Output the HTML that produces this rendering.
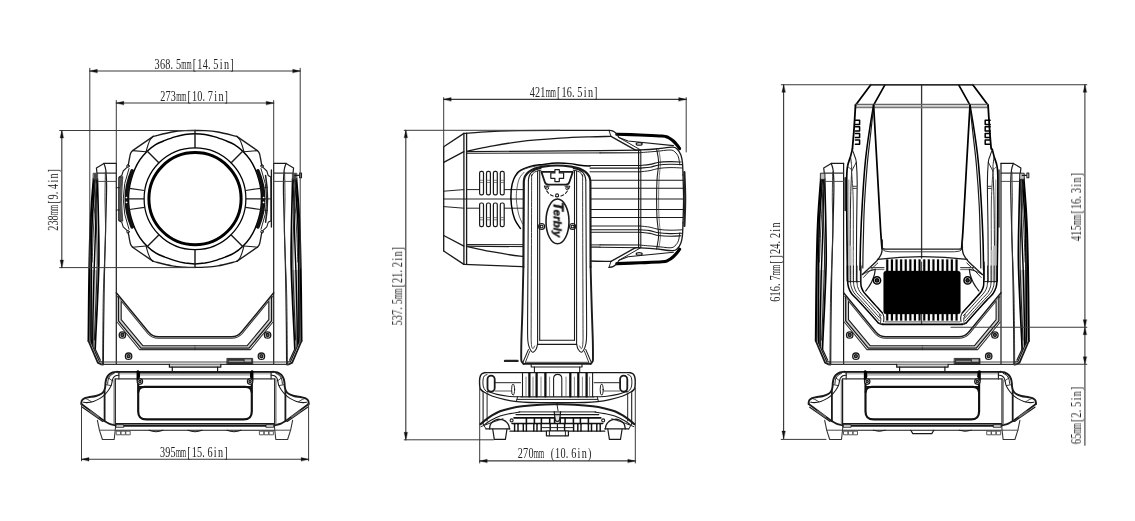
<!DOCTYPE html>
<html lang="en">
<head>
<meta charset="utf-8">
<title>Dimensions</title>
<style>
html,body{margin:0;padding:0;background:#fff;}
body{width:1135px;height:521px;overflow:hidden;}
svg{display:block;}
svg text{will-change:transform;}
svg text{font-family:"Liberation Serif","DejaVu Serif",serif;fill:#222;}
svg text.m{font-family:"Liberation Mono","DejaVu Sans Mono",monospace;}
svg path,svg line,svg circle,svg ellipse,svg rect{stroke-linecap:round;stroke-linejoin:round;}
</style>
</head>
<body>
<svg width="1135" height="521" viewBox="0 0 1135 521">
<rect x="0" y="0" width="1135" height="521" fill="#fff" stroke="none"/>
<circle cx="195" cy="198.7" r="46.1" stroke="#000" stroke-width="2.97" fill="none"/>
<circle cx="195" cy="198.8" r="50.9" stroke="#000" stroke-width="1.26" fill="none"/>
<path d="M195 133.7 C198.3 133.7 201.7 133.9 205 134.4 C208.3 135 211.7 135.9 215 136.9 C218.3 137.9 221.8 139.2 225 140.4 C228.2 141.7 231.4 142.8 234.4 144.6 C237.4 146.4 240.2 148.8 242.8 151.2 C245.4 153.8 248 156.6 250 159.6 C252 162.5 253.6 165.6 255 168.8 C256.4 171.9 257.6 175.4 258.6 178.8 C259.6 182.1 260.3 185.4 260.8 188.8 C261.3 192.1 261.5 195.4 261.5 198.8 C261.5 202.1 261.3 205.4 260.8 208.8 C260.3 212.1 259.6 215.4 258.6 218.8 C257.6 222.1 256.4 225.6 255 228.8 C253.6 231.9 252 235 250 237.9 C248 240.9 245.4 243.8 242.8 246.2 C240.2 248.8 237.4 251.1 234.4 252.9 C231.4 254.8 228.2 255.8 225 257.1 C221.8 258.3 218.3 259.6 215 260.6 C211.7 261.6 208.3 262.5 205 263.1 C201.7 263.6 198.3 263.9 195 263.9 C191.7 263.9 188.3 263.6 185 263.1 C181.7 262.5 178.3 261.6 175 260.6 C171.7 259.6 168.2 258.3 165 257.1 C161.8 255.8 158.6 254.8 155.6 252.9 C152.6 251.1 149.8 248.8 147.2 246.2 C144.6 243.8 142 240.9 140 237.9 C138 235 136.4 231.9 135 228.8 C133.6 225.6 132.4 222.1 131.4 218.8 C130.4 215.4 129.7 212.1 129.2 208.8 C128.7 205.4 128.5 202.1 128.5 198.8 C128.5 195.4 128.7 192.1 129.2 188.8 C129.7 185.4 130.4 182.1 131.4 178.8 C132.4 175.4 133.6 171.9 135 168.8 C136.4 165.6 138 162.5 140 159.6 C142 156.6 144.6 153.8 147.2 151.2 C149.8 148.8 152.6 146.4 155.6 144.6 C158.6 142.8 161.8 141.7 165 140.4 C168.2 139.2 171.7 137.9 175 136.9 C178.3 135.9 181.7 135 185 134.4 C188.3 133.9 191.7 133.7 195 133.7 Z" stroke="#000" stroke-width="1.5" fill="none" />
<path d="M195 130.5 C193.3 130.5 188.8 130.4 185 130.7 C181.2 130.9 177.3 131.1 172 132 C166.7 132.9 156.3 135.7 153.2 136.4" stroke="#1a1a1a" stroke-width="1.32" fill="none" />
<path d="M195 267.3 C193.3 267.3 188.8 267.4 185 267.1 C181.2 266.9 177.3 266.8 172 265.8 C166.7 264.9 156.3 262.1 153.2 261.4" stroke="#1a1a1a" stroke-width="1.32" fill="none" />
<path d="M195 130.5 C196.7 130.5 201.2 130.4 205 130.7 C208.8 130.9 212.7 131.1 218 132 C223.3 132.9 233.7 135.7 236.8 136.4" stroke="#1a1a1a" stroke-width="1.32" fill="none" />
<path d="M195 267.3 C196.7 267.3 201.2 267.4 205 267.1 C208.8 266.9 212.7 266.8 218 265.8 C223.3 264.9 233.7 262.1 236.8 261.4" stroke="#1a1a1a" stroke-width="1.32" fill="none" />
<path d="M153.2 136.4 L132.6 150.6" stroke="#1a1a1a" stroke-width="1.32" fill="none" />
<path d="M153.2 261.4 L132.6 247.2" stroke="#1a1a1a" stroke-width="1.32" fill="none" />
<path d="M236.8 136.4 L257.4 150.6" stroke="#1a1a1a" stroke-width="1.32" fill="none" />
<path d="M236.8 261.4 L257.4 247.2" stroke="#1a1a1a" stroke-width="1.32" fill="none" />
<path d="M132.6 150.6 C132.2 151.2 131.1 151.5 130.4 154 C129.7 156.5 128.6 163.6 128.2 165.5" stroke="#1a1a1a" stroke-width="1.32" fill="none" />
<path d="M132.6 247.2 C132.2 246.6 131.1 246.3 130.4 243.8 C129.7 241.3 128.6 234.2 128.2 232.3" stroke="#1a1a1a" stroke-width="1.32" fill="none" />
<path d="M257.4 150.6 C257.8 151.2 258.9 151.5 259.6 154 C260.3 156.5 261.4 163.6 261.8 165.5" stroke="#1a1a1a" stroke-width="1.32" fill="none" />
<path d="M257.4 247.2 C257.8 246.6 258.9 246.3 259.6 243.8 C260.3 241.3 261.4 234.2 261.8 232.3" stroke="#1a1a1a" stroke-width="1.32" fill="none" />
<path d="M153.2 136.4 C152.7 136.9 151.2 138.1 150.3 139.5 C149.4 140.9 148.7 142.9 148 145 C147.3 147.1 146.3 150.8 146 152" stroke="#1a1a1a" stroke-width="1.08" fill="none" />
<path d="M153.2 261.4 C152.7 260.9 151.2 259.7 150.3 258.3 C149.4 256.9 148.7 254.9 148 252.8 C147.3 250.7 146.3 247 146 245.8" stroke="#1a1a1a" stroke-width="1.08" fill="none" />
<path d="M236.8 136.4 C237.3 136.9 238.8 138.1 239.7 139.5 C240.6 140.9 241.3 142.9 242 145 C242.7 147.1 243.7 150.8 244 152" stroke="#1a1a1a" stroke-width="1.08" fill="none" />
<path d="M236.8 261.4 C237.3 260.9 238.8 259.7 239.7 258.3 C240.6 256.9 241.3 254.9 242 252.8 C242.7 250.7 243.7 247 244 245.8" stroke="#1a1a1a" stroke-width="1.08" fill="none" />
<path d="M132.6 150.6 L146 151.8" stroke="#1a1a1a" stroke-width="1.08" fill="none" />
<path d="M132.6 247.2 L146 246" stroke="#1a1a1a" stroke-width="1.08" fill="none" />
<path d="M257.4 150.6 L244 151.8" stroke="#1a1a1a" stroke-width="1.08" fill="none" />
<path d="M257.4 247.2 L244 246" stroke="#1a1a1a" stroke-width="1.08" fill="none" />
<line x1="231.2" y1="235.1" x2="242.7" y2="246.6" stroke="#1a1a1a" stroke-width="1.44"/>
<line x1="158.8" y1="235.1" x2="147.3" y2="246.6" stroke="#1a1a1a" stroke-width="1.44"/>
<line x1="158.8" y1="162.7" x2="147.3" y2="151.2" stroke="#1a1a1a" stroke-width="1.44"/>
<line x1="231.2" y1="162.7" x2="242.7" y2="151.2" stroke="#1a1a1a" stroke-width="1.44"/>
<line x1="195" y1="130.5" x2="195" y2="147.7" stroke="#1a1a1a" stroke-width="1.44"/>
<line x1="195" y1="250.1" x2="195" y2="267.5" stroke="#1a1a1a" stroke-width="1.44"/>
<line x1="245.6" y1="190.5" x2="260.6" y2="188.3" stroke="#1a1a1a" stroke-width="1.2"/>
<line x1="246" y1="198.9" x2="261.5" y2="198.9" stroke="#1a1a1a" stroke-width="1.2"/>
<line x1="245.6" y1="207.3" x2="260.6" y2="209.5" stroke="#1a1a1a" stroke-width="1.2"/>
<line x1="144.4" y1="190.5" x2="129.4" y2="188.3" stroke="#1a1a1a" stroke-width="1.2"/>
<line x1="144" y1="198.9" x2="128.5" y2="198.9" stroke="#1a1a1a" stroke-width="1.2"/>
<line x1="144.4" y1="207.3" x2="129.4" y2="209.5" stroke="#1a1a1a" stroke-width="1.2"/>
<path d="M132.2 171 Q120.6 198.9 132.2 226.8" stroke="#111" stroke-width="3.81" fill="none" />
<circle cx="126.4" cy="197.6" r="0.8" stroke="#fff" stroke-width="0.1" fill="#fff"/>
<circle cx="126.5" cy="202.4" r="0.8" stroke="#fff" stroke-width="0.1" fill="#fff"/>
<path d="M129 168.5 Q117.4 198.9 129 229.3" stroke="#1a1a1a" stroke-width="0.96" fill="none" />
<path d="M127.2 167.2 L123.2 171 L121.8 175.5 L119.2 177 L119 220.8 L121.8 222.3 L123.2 226.8 L127.2 230.6" stroke="#1a1a1a" stroke-width="1.08" fill="none" />
<path d="M119 177.4 L122.8 176.6 Q120.2 198.9 122.8 221.2 L119 220.4 Z" stroke="#1a1a1a" stroke-width="0.72" fill="#555" />
<circle cx="128" cy="166" r="1.3" stroke="#1a1a1a" stroke-width="0.96" fill="none"/>
<circle cx="128" cy="231.8" r="1.3" stroke="#1a1a1a" stroke-width="0.96" fill="none"/>
<path d="M257.8 171 Q269.4 198.9 257.8 226.8" stroke="#111" stroke-width="3.81" fill="none" />
<circle cx="263.6" cy="197.6" r="0.8" stroke="#fff" stroke-width="0.1" fill="#fff"/>
<circle cx="263.5" cy="202.4" r="0.8" stroke="#fff" stroke-width="0.1" fill="#fff"/>
<path d="M261 168.5 Q272.6 198.9 261 229.3" stroke="#1a1a1a" stroke-width="0.96" fill="none" />
<path d="M262.8 167.2 L266.8 171 L268.2 175.5 L270.8 177 L271 220.8 L268.2 222.3 L266.8 226.8 L262.8 230.6" stroke="#1a1a1a" stroke-width="1.08" fill="none" />
<path d="M265.6 175.6 Q269.4 198.9 265.6 222.2" stroke="#222" stroke-width="1.56" fill="none" />
<line x1="261.4" y1="198.9" x2="271.2" y2="198.9" stroke="#1a1a1a" stroke-width="0.96"/>
<line x1="260.6" y1="188.3" x2="267.4" y2="187.3" stroke="#1a1a1a" stroke-width="0.84"/>
<line x1="260.6" y1="209.5" x2="267.4" y2="210.5" stroke="#1a1a1a" stroke-width="0.84"/>
<circle cx="262" cy="166" r="1.3" stroke="#1a1a1a" stroke-width="0.96" fill="none"/>
<circle cx="262" cy="231.8" r="1.3" stroke="#1a1a1a" stroke-width="0.96" fill="none"/>
<line x1="271.4" y1="170" x2="271.4" y2="227" stroke="#1a1a1a" stroke-width="1.32"/>
<line x1="116.3" y1="187.7" x2="119.4" y2="187.7" stroke="#1a1a1a" stroke-width="0.96"/>
<line x1="116.3" y1="210" x2="119.4" y2="210" stroke="#1a1a1a" stroke-width="0.96"/>
<path d="M89.8 270 L98.2 270 L97.2 300 L95.6 335 L95.2 349 L91 343 L89 341 L89.3 300 Z" stroke="#ccc" stroke-width="0.1" fill="#c6c6c6" />
<path d="M300.2 270 L291.8 270 L292.8 300 L294.4 335 L294.8 349 L299 343 L301 341 L300.7 300 Z" stroke="#ccc" stroke-width="0.1" fill="#c6c6c6" />
<line x1="116.3" y1="163.4" x2="116.3" y2="364.3" stroke="#1a1a1a" stroke-width="1.2"/>
<line x1="273.7" y1="163.4" x2="273.7" y2="364.3" stroke="#1a1a1a" stroke-width="1.2"/>
<path d="M116.3 163.4 L103.9 163.4 L96.4 167.9 L96.9 172.5" stroke="#1a1a1a" stroke-width="1.2" fill="none" />
<path d="M273.7 163.4 L286.1 163.4 L293.6 167.9 L293.1 172.5" stroke="#1a1a1a" stroke-width="1.2" fill="none" />
<path d="M93.6 179 C93.3 183.3 92.1 196.5 91.6 205 C91 213.5 90.7 219.2 90.3 230 C89.9 240.8 89.6 255 89.3 270 C89 285 88.8 308.2 88.7 320 C88.6 331.8 88.5 337.5 88.5 341" stroke="#000" stroke-width="2.04" fill="none" />
<path d="M296.4 179 C296.7 183.3 297.8 196.5 298.4 205 C298.9 213.5 299.3 219.2 299.7 230 C300.1 240.8 300.4 255 300.7 270 C301 285 301.2 308.2 301.3 320 C301.4 331.8 301.5 337.5 301.5 341" stroke="#000" stroke-width="2.04" fill="none" />
<path d="M95 179 C94.7 183.3 93.7 196.5 93.2 205 C92.7 213.5 92.1 217.5 91.8 230 C91.5 242.5 91.3 263.3 91.2 280 C91.1 296.7 91 319.5 91 330 C91 340.5 91.2 340.8 91.3 343" stroke="#000" stroke-width="1.68" fill="none" />
<path d="M295 179 C295.3 183.3 296.3 196.5 296.8 205 C297.3 213.5 297.9 217.5 298.2 230 C298.5 242.5 298.7 263.3 298.8 280 C298.9 296.7 299 319.5 299 330 C299 340.5 298.8 340.8 298.7 343" stroke="#000" stroke-width="1.68" fill="none" />
<path d="M97.4 179 C97.6 185.8 98.2 206.5 98.4 220 C98.7 233.5 99.1 246.7 98.9 260 C98.8 273.3 98 287.5 97.5 300 C97 312.5 96.2 326.8 95.8 335 C95.4 343.2 95.3 346.7 95.2 349" stroke="#000" stroke-width="1.68" fill="none" />
<path d="M292.6 179 C292.4 185.8 291.9 206.5 291.6 220 C291.4 233.5 291 246.7 291.1 260 C291.2 273.3 292 287.5 292.5 300 C293 312.5 293.8 326.8 294.2 335 C294.6 343.2 294.7 346.7 294.8 349" stroke="#000" stroke-width="1.68" fill="none" />
<path d="M96.5 179 C96.3 187.5 96 213.2 95.5 230 C95 246.8 94.2 265 93.8 280 C93.4 295 93.1 309 92.9 320 C92.7 331 92.8 341.7 92.8 346" stroke="#000" stroke-width="1.44" fill="none" />
<path d="M293.5 179 C293.7 187.5 294.1 213.2 294.5 230 C294.9 246.8 295.8 265 296.2 280 C296.6 295 296.9 309 297.1 320 C297.3 331 297.2 341.7 297.2 346" stroke="#000" stroke-width="1.44" fill="none" />
<path d="M94.2 179 C94.4 183.3 95.2 195.7 95.6 205 C96 214.3 96.5 225.5 96.8 235 C97.1 244.5 97.3 251.2 97.2 262 C97.1 272.8 96.5 287 96 300 C95.5 313 94.7 333.3 94.4 340" stroke="#222" stroke-width="1.08" fill="none" />
<path d="M295.8 179 C295.6 183.3 294.8 195.7 294.4 205 C294 214.3 293.5 225.5 293.2 235 C292.9 244.5 292.7 251.2 292.8 262 C292.9 272.8 293.5 287 294 300 C294.5 313 295.3 333.3 295.6 340" stroke="#222" stroke-width="1.08" fill="none" />
<path d="M97.2 179 C96.9 182.5 95.8 191.5 95.2 200 C94.6 208.5 93.9 219.7 93.4 230 C92.9 240.3 92.4 256.7 92.2 262" stroke="#333" stroke-width="0.96" fill="none" />
<path d="M292.8 179 C293.1 182.5 294.2 191.5 294.8 200 C295.4 208.5 296.1 219.7 296.6 230 C297.1 240.3 297.6 256.7 297.8 262" stroke="#333" stroke-width="0.96" fill="none" />
<path d="M93.5 173.2 L97.6 173.2 L97.7 179.4 L93.4 179.4 Z" stroke="#333" stroke-width="0.72" fill="#4a4a4a" />
<path d="M296.5 173.2 L292.4 173.2 L292.3 179.4 L296.6 179.4 Z" stroke="#333" stroke-width="0.72" fill="#4a4a4a" />
<path d="M103.9 163.4 C104.2 164.5 105.3 166.2 105.8 170 C106.2 173.8 106.6 176 106.6 186 C106.6 196 106 214.3 105.6 230 C105.2 245.7 104.6 263.3 104.3 280 C104 296.7 103.8 316 103.6 330 C103.4 344 103.4 358.3 103.4 364" stroke="#1a1a1a" stroke-width="1.2" fill="none" />
<path d="M286.1 163.4 C285.8 164.5 284.6 166.2 284.2 170 C283.8 173.8 283.4 176 283.4 186 C283.4 196 284 214.3 284.4 230 C284.8 245.7 285.4 263.3 285.7 280 C286 296.7 286.2 316 286.4 330 C286.5 344 286.6 358.3 286.6 364" stroke="#1a1a1a" stroke-width="1.2" fill="none" />
<path d="M105.4 172 C105.3 176.7 105 190.3 105 200 C105 209.7 105.7 220 105.6 230 C105.5 240 105 248.3 104.6 260 C104.2 271.7 103.5 282.7 103.2 300 C102.9 317.3 102.7 353.3 102.6 364" stroke="#333" stroke-width="0.96" fill="none" />
<path d="M284.6 172 C284.7 176.7 285 190.3 285 200 C285 209.7 284.3 220 284.4 230 C284.5 240 285 248.3 285.4 260 C285.8 271.7 286.5 282.7 286.8 300 C287.1 317.3 287.3 353.3 287.4 364" stroke="#333" stroke-width="0.96" fill="none" />
<line x1="97" y1="173.1" x2="116.3" y2="173.1" stroke="#333" stroke-width="1.08"/>
<line x1="293" y1="173.1" x2="273.7" y2="173.1" stroke="#333" stroke-width="1.08"/>
<line x1="98.4" y1="181.4" x2="116.3" y2="181.4" stroke="#444" stroke-width="0.96"/>
<line x1="291.6" y1="181.4" x2="273.7" y2="181.4" stroke="#444" stroke-width="0.96"/>
<path d="M88.5 341 L97.8 362.6 L101 364.3 L103.2 364.5" stroke="#1a1a1a" stroke-width="1.8" fill="none" />
<path d="M301.5 341 L292.2 362.6 L289 364.3 L286.8 364.5" stroke="#1a1a1a" stroke-width="1.8" fill="none" />
<path d="M91.3 343 L99.4 361.6 L103.2 362.1" stroke="#1a1a1a" stroke-width="1.2" fill="none" />
<path d="M298.7 343 L290.6 361.6 L286.8 362.1" stroke="#1a1a1a" stroke-width="1.2" fill="none" />
<path d="M95.2 349 L100.4 360.2" stroke="#1a1a1a" stroke-width="1.2" fill="none" />
<path d="M294.8 349 L289.6 360.2" stroke="#1a1a1a" stroke-width="1.2" fill="none" />
<line x1="101" y1="364.4" x2="289" y2="364.4" stroke="#333" stroke-width="1.44"/>
<line x1="103.2" y1="362" x2="286.8" y2="362" stroke="#444" stroke-width="1.2"/>
<path d="M116.3 292.8 L148.5 332 Q152.5 336.8 158.5 336.8 L231.5 336.8 Q237.5 336.8 241.5 332 L273.7 292.8" stroke="#1a1a1a" stroke-width="1.44" fill="none" />
<path d="M117.5 296.5 L147.7 333.5 Q152 338.3 158.5 338.3 L231.5 338.3 Q238 338.3 242.3 333.5 L272.5 296.5" stroke="#333" stroke-width="1.08" fill="none" />
<path d="M118.4 297 L118.4 320.8 L141 348 L195 348 L195 348 L249 348 L271.6 320.8 L271.6 297 L268.8 301.5 L268.8 319.6 L247 345.8 L143 345.8 L121.2 319.6 L121.2 301.5 Z" stroke="#ccc" stroke-width="0.1" fill="#cfcfcf" />
<path d="M118.4 297 L118.4 320.8 L141 348.2 L195 348.2" stroke="#1a1a1a" stroke-width="1.32" fill="none" />
<path d="M271.6 297 L271.6 320.8 L249 348.2 L195 348.2" stroke="#1a1a1a" stroke-width="1.32" fill="none" />
<path d="M121.2 301.5 L121.2 319.6 L143 345.8 L195 345.8" stroke="#1a1a1a" stroke-width="1.08" fill="none" />
<path d="M268.8 301.5 L268.8 319.6 L247 345.8 L195 345.8" stroke="#1a1a1a" stroke-width="1.08" fill="none" />
<path d="M117 322 L139.6 349.6 L195 349.6" stroke="#333" stroke-width="1.08" fill="none" />
<path d="M273 322 L250.4 349.6 L195 349.6" stroke="#333" stroke-width="1.08" fill="none" />
<circle cx="122.4" cy="335" r="3.2" stroke="#1a1a1a" stroke-width="1.32" fill="none"/>
<circle cx="267.6" cy="335" r="3.2" stroke="#1a1a1a" stroke-width="1.32" fill="none"/>
<circle cx="122.4" cy="335" r="1.5" stroke="#1a1a1a" stroke-width="1.32" fill="#666"/>
<circle cx="267.6" cy="335" r="1.5" stroke="#1a1a1a" stroke-width="1.32" fill="#666"/>
<circle cx="128.6" cy="356.2" r="3.2" stroke="#1a1a1a" stroke-width="1.32" fill="none"/>
<circle cx="261.4" cy="356.2" r="3.2" stroke="#1a1a1a" stroke-width="1.32" fill="none"/>
<circle cx="128.6" cy="356.2" r="1.5" stroke="#1a1a1a" stroke-width="1.32" fill="#666"/>
<circle cx="261.4" cy="356.2" r="1.5" stroke="#1a1a1a" stroke-width="1.32" fill="#666"/>
<rect x="227.2" y="358.4" width="25.5" height="5.8" rx="0" stroke="#1a1a1a" stroke-width="0.72" fill="#333"/>
<line x1="229.2" y1="361.2" x2="243.2" y2="361.2" stroke="#aaa" stroke-width="1.08"/>
<rect x="244.7" y="359.4" width="6.5" height="2.2" rx="0" stroke="#bbb" stroke-width="0.1" fill="#bbb"/>
<path d="M169.4 364.4 L169.4 367.2 L220.8 367.2 L220.8 364.4" stroke="#1a1a1a" stroke-width="1.2" fill="#d4d4d4" />
<path d="M172.3 367.2 L172.3 371.8" stroke="#1a1a1a" stroke-width="1.2" fill="none" />
<path d="M217.6 367.2 L217.6 371.8" stroke="#1a1a1a" stroke-width="1.2" fill="none" />
<line x1="181.5" y1="373.6" x2="186.5" y2="373.6" stroke="#000" stroke-width="1.44"/>
<line x1="189" y1="373.6" x2="191" y2="373.6" stroke="#000" stroke-width="1.44"/>
<line x1="193.5" y1="373.6" x2="201" y2="373.6" stroke="#000" stroke-width="1.44"/>
<line x1="138" y1="372.4" x2="252" y2="372.4" stroke="#222" stroke-width="1.92"/>
<line x1="138" y1="373.8" x2="252" y2="373.8" stroke="#777" stroke-width="1.68"/>
<line x1="138" y1="375" x2="252" y2="375" stroke="#bbb" stroke-width="1.44"/>
<line x1="119" y1="373.2" x2="137" y2="373.2" stroke="#bbb" stroke-width="2.46"/>
<line x1="271" y1="373.2" x2="253" y2="373.2" stroke="#bbb" stroke-width="2.46"/>
<line x1="117" y1="371.8" x2="273" y2="371.8" stroke="#1a1a1a" stroke-width="1.68"/>
<path d="M117 371.8 C116.3 371.9 114 372 112.6 372.5 C111.2 373 109.6 373.9 108.6 375 C107.5 376.1 106.8 377.5 106.3 378.8 C105.8 380.1 105.7 381.6 105.5 383 C105.3 384.4 105.4 385.7 105.2 387 C105 388.3 104.8 389.5 104.2 390.6 C103.6 391.7 102.8 392.9 101.4 393.8 C100 394.7 98.1 395.4 96 396 C93.9 396.6 90.5 396.8 88.6 397.2 C86.7 397.6 85.5 397.8 84.4 398.3 C83.3 398.8 82.5 399.5 82 400.2 C81.5 400.9 81.5 401.8 81.4 402.4 C81.3 403 81.4 403.7 81.4 404" stroke="#1a1a1a" stroke-width="1.92" fill="none" />
<path d="M273 371.8 C273.7 371.9 276 372 277.4 372.5 C278.8 373 280.3 373.9 281.4 375 C282.4 376.1 283.2 377.5 283.7 378.8 C284.2 380.1 284.3 381.6 284.5 383 C284.7 384.4 284.6 385.7 284.8 387 C285 388.3 285.2 389.5 285.8 390.6 C286.4 391.7 287.2 392.9 288.6 393.8 C290 394.7 291.9 395.4 294 396 C296.1 396.6 299.5 396.8 301.4 397.2 C303.3 397.6 304.5 397.8 305.6 398.3 C306.7 398.8 307.5 399.5 308 400.2 C308.5 400.9 308.5 401.8 308.6 402.4 C308.7 403 308.6 403.7 308.6 404" stroke="#1a1a1a" stroke-width="1.92" fill="none" />
<path d="M118.9 375.2 C118.4 375.3 116.5 375.3 115.6 375.8 C114.6 376.3 113.8 377.1 113.2 378 C112.6 378.9 112.5 379.8 112.2 381 C111.9 382.2 111.8 383.9 111.2 385.4 C110.6 386.9 109.7 388.5 108.6 390 C107.5 391.5 106.2 393.2 104.8 394.6 C103.4 396 101.9 397.3 100 398.4 C98.1 399.5 95.7 400.7 93.5 401.4 C91.3 402.1 88.7 402.5 87 402.6 C85.3 402.7 84 402.3 83.4 402.2" stroke="#1a1a1a" stroke-width="1.08" fill="none" />
<path d="M271.1 375.2 C271.7 375.3 273.4 375.3 274.4 375.8 C275.3 376.3 276.2 377.1 276.8 378 C277.4 378.9 277.5 379.8 277.8 381 C278.1 382.2 278.2 383.9 278.8 385.4 C279.4 386.9 280.3 388.5 281.4 390 C282.5 391.5 283.8 393.2 285.2 394.6 C286.6 396 288.1 397.3 290 398.4 C291.9 399.5 294.3 400.7 296.5 401.4 C298.7 402.1 301.3 402.5 303 402.6 C304.7 402.7 306 402.3 306.6 402.2" stroke="#1a1a1a" stroke-width="1.08" fill="none" />
<path d="M114.2 373.4 C113.6 373.7 111.6 374.5 110.6 375.4 C109.6 376.3 108.9 377.6 108.4 379 C107.9 380.4 107.7 383.2 107.6 384" stroke="#1a1a1a" stroke-width="0.96" fill="none" />
<path d="M275.8 373.4 C276.4 373.7 278.4 374.5 279.4 375.4 C280.4 376.3 281.1 377.6 281.6 379 C282.1 380.4 282.3 383.2 282.4 384" stroke="#1a1a1a" stroke-width="0.96" fill="none" />
<path d="M108.6 378 L112.4 380.8" stroke="#1a1a1a" stroke-width="0.84" fill="none" />
<path d="M281.4 378 L277.6 380.8" stroke="#1a1a1a" stroke-width="0.84" fill="none" />
<path d="M105.6 384.6 L111 385.6" stroke="#1a1a1a" stroke-width="0.84" fill="none" />
<path d="M284.4 384.6 L279 385.6" stroke="#1a1a1a" stroke-width="0.84" fill="none" />
<path d="M84.4 398.3 C84.9 398.5 86.4 398.8 87.6 399.4 C88.8 400 90.8 401.4 91.5 401.8" stroke="#1a1a1a" stroke-width="0.84" fill="none" />
<path d="M305.6 398.3 C305.1 398.5 303.6 398.8 302.4 399.4 C301.2 400 299.1 401.4 298.5 401.8" stroke="#1a1a1a" stroke-width="0.84" fill="none" />
<path d="M81.4 404 L104.2 420.9" stroke="#1a1a1a" stroke-width="1.8" fill="none" />
<path d="M308.6 404 L285.8 420.9" stroke="#1a1a1a" stroke-width="1.8" fill="none" />
<path d="M104.2 420.9 C105 421.3 107 422.9 109 423.6 C111 424.4 114.8 425.1 115.9 425.4" stroke="#1a1a1a" stroke-width="1.8" fill="none" />
<path d="M285.8 420.9 C285 421.3 282.9 422.9 281 423.6 C279.1 424.4 275.2 425.1 274.1 425.4" stroke="#1a1a1a" stroke-width="1.8" fill="none" />
<path d="M82.4 407.2 L102.8 421.4" stroke="#1a1a1a" stroke-width="1.2" fill="none" />
<path d="M307.6 407.2 L287.2 421.4" stroke="#1a1a1a" stroke-width="1.2" fill="none" />
<path d="M90 411.4 L98 416.8" stroke="#666" stroke-width="1.92" fill="none" />
<path d="M300 411.4 L292 416.8" stroke="#666" stroke-width="1.92" fill="none" />
<line x1="115.3" y1="379" x2="115.3" y2="425.6" stroke="#1a1a1a" stroke-width="1.2"/>
<line x1="274.7" y1="379" x2="274.7" y2="425.6" stroke="#1a1a1a" stroke-width="1.2"/>
<line x1="114" y1="380" x2="114" y2="424.6" stroke="#555" stroke-width="0.84"/>
<line x1="276" y1="380" x2="276" y2="424.6" stroke="#555" stroke-width="0.84"/>
<line x1="104.6" y1="391" x2="104.6" y2="420.4" stroke="#1a1a1a" stroke-width="1.8"/>
<line x1="285.4" y1="391" x2="285.4" y2="420.4" stroke="#1a1a1a" stroke-width="1.8"/>
<line x1="118.9" y1="371.8" x2="118.9" y2="379" stroke="#1a1a1a" stroke-width="1.08"/>
<line x1="271.1" y1="371.8" x2="271.1" y2="379" stroke="#1a1a1a" stroke-width="1.08"/>
<line x1="115" y1="378.9" x2="275" y2="378.9" stroke="#333" stroke-width="1.2"/>
<line x1="115.9" y1="425.6" x2="274.1" y2="425.6" stroke="#1a1a1a" stroke-width="2.16"/>
<line x1="115.9" y1="423.6" x2="274.1" y2="423.6" stroke="#1a1a1a" stroke-width="1.08"/>
<line x1="116" y1="430.3" x2="274" y2="430.3" stroke="#1a1a1a" stroke-width="1.08"/>
<path d="M138.2 372 L138.2 411.4 Q138.2 419.4 146.4 419.4 L243.6 419.4 Q251.8 419.4 251.8 411.4 L251.8 372" stroke="#111" stroke-width="2.16" fill="none" />
<path d="M138.4 392 Q138.8 386.8 144.5 386.8 L245.5 386.8 Q251.2 386.8 251.6 392" stroke="#111" stroke-width="2.16" fill="none" />
<line x1="138.6" y1="386.8" x2="251.4" y2="386.8" stroke="#111" stroke-width="1.44"/>
<line x1="137.9" y1="371.6" x2="137.9" y2="380" stroke="#000" stroke-width="2.69"/>
<line x1="252.1" y1="371.6" x2="252.1" y2="380" stroke="#000" stroke-width="2.69"/>
<path d="M139.2 371.8 L139.6 377.2 L138.6 377.2 Z" stroke="#000" stroke-width="0.96" fill="#000" />
<path d="M250.8 371.8 L250.4 377.2 L251.4 377.2 Z" stroke="#000" stroke-width="0.96" fill="#000" />
<circle cx="139.9" cy="381.6" r="2.7" stroke="#1a1a1a" stroke-width="1.2" fill="#fff"/>
<circle cx="250.1" cy="381.6" r="2.7" stroke="#1a1a1a" stroke-width="1.2" fill="#fff"/>
<circle cx="139.9" cy="381.6" r="1.2" stroke="#1a1a1a" stroke-width="1.08" fill="#888"/>
<circle cx="250.1" cy="381.6" r="1.2" stroke="#1a1a1a" stroke-width="1.08" fill="#888"/>
<path d="M97.4 420.4 L99.4 430.2 L102.4 439.5 L114.2 439.5 L115.2 430.2 L115.6 426" stroke="#333" stroke-width="1.08" fill="none" />
<path d="M292.6 420.4 L290.6 430.2 L287.6 439.5 L275.8 439.5 L274.8 430.2 L274.4 426" stroke="#333" stroke-width="1.08" fill="none" />
<line x1="99.4" y1="430.2" x2="115.4" y2="430.2" stroke="#444" stroke-width="0.96"/>
<line x1="290.6" y1="430.2" x2="274.6" y2="430.2" stroke="#444" stroke-width="0.96"/>
<rect x="116.6" y="431.2" width="4" height="3.6" rx="0" stroke="#555" stroke-width="0.96" fill="none"/>
<rect x="269.4" y="431.2" width="4" height="3.6" rx="0" stroke="#555" stroke-width="0.96" fill="none"/>
<rect x="121.4" y="431.2" width="4" height="3.6" rx="0" stroke="#555" stroke-width="0.96" fill="none"/>
<rect x="264.6" y="431.2" width="4" height="3.6" rx="0" stroke="#555" stroke-width="0.96" fill="none"/>
<rect x="126.2" y="431.2" width="4" height="3.6" rx="0" stroke="#555" stroke-width="0.96" fill="none"/>
<rect x="259.8" y="431.2" width="4" height="3.6" rx="0" stroke="#555" stroke-width="0.96" fill="none"/>
<rect x="116.2" y="424.8" width="7.6" height="2.4" rx="0" stroke="#1a1a1a" stroke-width="0.96" fill="#fff"/>
<rect x="266.2" y="424.8" width="7.6" height="2.4" rx="0" stroke="#1a1a1a" stroke-width="0.96" fill="#fff"/>
<path d="M149 430.3 Q156 433.2 163 430.3" stroke="#1a1a1a" stroke-width="1.08" fill="none" />
<path d="M188 430.3 Q195 433.2 202 430.3" stroke="#1a1a1a" stroke-width="1.08" fill="none" />
<path d="M227 430.3 Q234 433.2 241 430.3" stroke="#1a1a1a" stroke-width="1.08" fill="none" />
<line x1="295" y1="175.4" x2="300" y2="175.4" stroke="#1a1a1a" stroke-width="1.2"/>
<rect x="299.6" y="173" width="1.9" height="4.8" rx="0" stroke="#1a1a1a" stroke-width="1.08" fill="#fff"/>
<line x1="89.8" y1="68.3" x2="89.8" y2="268" stroke="#3a3a3a" stroke-width="1"/>
<line x1="300.2" y1="68.3" x2="300.2" y2="268" stroke="#3a3a3a" stroke-width="1"/>
<line x1="89.8" y1="71" x2="300.2" y2="71" stroke="#3a3a3a" stroke-width="1.15"/>
<path d="M89.8 71 L97.3 69.3 L97.3 72.7 Z" stroke="#111" stroke-width="0.3" fill="#111" />
<path d="M300.2 71 L292.7 69.3 L292.7 72.7 Z" stroke="#111" stroke-width="0.3" fill="#111" />
<line x1="116.3" y1="100.5" x2="116.3" y2="163.4" stroke="#3a3a3a" stroke-width="1"/>
<line x1="273.7" y1="100.5" x2="273.7" y2="163.4" stroke="#3a3a3a" stroke-width="1"/>
<line x1="116.3" y1="103" x2="273.7" y2="103" stroke="#3a3a3a" stroke-width="1.15"/>
<path d="M116.3 103 L123.8 101.3 L123.8 104.7 Z" stroke="#111" stroke-width="0.3" fill="#111" />
<path d="M273.7 103 L266.2 101.3 L266.2 104.7 Z" stroke="#111" stroke-width="0.3" fill="#111" />
<line x1="59.7" y1="130.5" x2="195" y2="130.5" stroke="#3a3a3a" stroke-width="1"/>
<line x1="59.7" y1="267.6" x2="195" y2="267.6" stroke="#3a3a3a" stroke-width="1"/>
<line x1="61.8" y1="130.5" x2="61.8" y2="267.6" stroke="#3a3a3a" stroke-width="1.15"/>
<path d="M61.8 130.5 L60.1 138 L63.5 138 Z" stroke="#111" stroke-width="0.3" fill="#111" />
<path d="M61.8 267.6 L60.1 260.1 L63.5 260.1 Z" stroke="#111" stroke-width="0.3" fill="#111" />
<line x1="81.5" y1="404" x2="81.5" y2="460.8" stroke="#3a3a3a" stroke-width="1"/>
<line x1="308.6" y1="404" x2="308.6" y2="460.8" stroke="#3a3a3a" stroke-width="1"/>
<line x1="81.5" y1="459.2" x2="308.6" y2="459.2" stroke="#3a3a3a" stroke-width="1.15"/>
<path d="M81.5 459.2 L89 457.5 L89 460.9 Z" stroke="#111" stroke-width="0.3" fill="#111" />
<path d="M308.6 459.2 L301.1 457.5 L301.1 460.9 Z" stroke="#111" stroke-width="0.3" fill="#111" />
<text class="s" y="0" text-anchor="middle" font-size="14.6" transform="translate(194.5 68.7) scale(0.7000 1)"><tspan x="-53.5 -45.8 -38.2 -32.4 -22.9">368.5</tspan><tspan x="-11.5" textLength="14.8" lengthAdjust="spacingAndGlyphs">mm</tspan><tspan x="0 7.6 15.3 21.1 30.6 38.2 45.8 53.5">[14.5in]</tspan></text>
<text class="s" y="0" text-anchor="middle" font-size="14.6" transform="translate(194.5 100.7) scale(0.7000 1)"><tspan x="-45.4 -37.8 -30.2">273</tspan><tspan x="-18.9" textLength="14.7" lengthAdjust="spacingAndGlyphs">mm</tspan><tspan x="-7.6 0 7.6 13.3 22.7 30.2 37.8 45.4">[10.7in]</tspan></text>
<text class="s" y="0" text-anchor="middle" font-size="14.6" transform="translate(194.2 456.8) scale(0.7000 1)"><tspan x="-45.2 -37.6 -30.1">395</tspan><tspan x="-18.8" textLength="14.6" lengthAdjust="spacingAndGlyphs">mm</tspan><tspan x="-7.5 0 7.5 13.2 22.6 30.1 37.6 45.2">[15.6in]</tspan></text>
<text class="s" y="0" text-anchor="middle" font-size="14.6" transform="translate(57.9 199.5) rotate(-90) scale(0.7000 1)"><tspan x="-41.1 -33.6 -26.2">238</tspan><tspan x="-15" textLength="14.5" lengthAdjust="spacingAndGlyphs">mm</tspan><tspan x="-3.7 3.7 9.4 18.7 26.2 33.6 41.1">[9.4in]</tspan></text>
<line x1="443.7" y1="146.8" x2="443.7" y2="250.9" stroke="#1a1a1a" stroke-width="1.32"/>
<path d="M443.7 146.8 L463.9 133.4" stroke="#1a1a1a" stroke-width="1.32" fill="none" />
<path d="M443.7 251 L463.9 264.4" stroke="#1a1a1a" stroke-width="1.32" fill="none" />
<path d="M443.7 162.3 L463.9 151.7" stroke="#1a1a1a" stroke-width="1.32" fill="none" />
<path d="M443.7 235.5 L463.9 246.1" stroke="#1a1a1a" stroke-width="1.32" fill="none" />
<line x1="463.9" y1="133.4" x2="463.9" y2="264.3" stroke="#1a1a1a" stroke-width="1.32"/>
<line x1="466.6" y1="133.2" x2="466.6" y2="264.4" stroke="#1a1a1a" stroke-width="1.32"/>
<path d="M463.9 133.4 C468.2 133.1 480.6 132.1 490 131.6 C499.4 131.1 508.3 130.8 520 130.6 C531.7 130.4 545.2 130.3 560 130.3 C574.8 130.3 600.8 130.4 609 130.4" stroke="#1a1a1a" stroke-width="1.32" fill="none" />
<path d="M463.9 264.3 C468.2 264.5 480.2 265 490 265.4 C499.8 265.8 517 266.4 522.4 266.6" stroke="#1a1a1a" stroke-width="1.32" fill="none" />
<path d="M466.6 151.4 C470.5 150.6 481.1 148 490 146.4 C498.9 144.8 508.3 143 520 141.6 C531.7 140.2 548.3 139 560 138.2 C571.7 137.4 581.5 137.1 590 136.8 C598.5 136.5 607.5 136.5 611 136.4" stroke="#1a1a1a" stroke-width="1.32" fill="none" />
<path d="M466.6 246.4 C470.5 247.2 481.1 249.8 490 251.4 C498.9 253 508.3 254.8 520 256.2 C531.7 257.6 548.3 258.8 560 259.6 C571.7 260.4 581.5 260.7 590 261 C598.5 261.3 607.5 261.3 611 261.4" stroke="#1a1a1a" stroke-width="1.32" fill="none" />
<line x1="466.6" y1="151.6" x2="600" y2="150.6" stroke="#1a1a1a" stroke-width="1.2"/>
<line x1="466.6" y1="246.2" x2="600" y2="247.2" stroke="#1a1a1a" stroke-width="1.2"/>
<line x1="466.6" y1="153.3" x2="600" y2="152.9" stroke="#1a1a1a" stroke-width="0.96"/>
<line x1="466.6" y1="244.5" x2="600" y2="244.9" stroke="#1a1a1a" stroke-width="0.96"/>
<line x1="600" y1="150.6" x2="640" y2="150.1" stroke="#1a1a1a" stroke-width="1.08"/>
<line x1="600" y1="247.2" x2="640" y2="247.7" stroke="#1a1a1a" stroke-width="1.08"/>
<line x1="600" y1="152.9" x2="640" y2="152.8" stroke="#1a1a1a" stroke-width="1.08"/>
<line x1="600" y1="244.9" x2="640" y2="245" stroke="#1a1a1a" stroke-width="1.08"/>
<path d="M609 130.4 C609.7 130.5 611.8 130.7 613 131.2 C614.2 131.7 615.8 133 616.4 133.4" stroke="#1a1a1a" stroke-width="1.32" fill="none" />
<path d="M609 267.4 C609.7 267.3 611.8 267.1 613 266.6 C614.2 266.1 615.8 264.8 616.4 264.4" stroke="#1a1a1a" stroke-width="1.32" fill="none" />
<path d="M609 130.4 L611 136.4" stroke="#1a1a1a" stroke-width="0.96" fill="none" />
<path d="M609 267.4 L611 261.4" stroke="#1a1a1a" stroke-width="0.96" fill="none" />
<path d="M616.8 134.2 C620.7 134.3 632.5 134.7 640 135 C647.5 135.3 657.3 135.6 662 136 C666.7 136.4 666.2 136.6 668 137.4 C669.8 138.2 671.5 139.5 673 140.8 C674.5 142.1 675.9 143.7 677 145 C678.1 146.3 679.2 148 679.6 148.6" stroke="#000" stroke-width="3.14" fill="none" />
<path d="M616.8 263.6 C620.7 263.5 632.5 263.1 640 262.8 C647.5 262.5 657.3 262.2 662 261.8 C666.7 261.4 666.2 261.2 668 260.4 C669.8 259.6 671.5 258.3 673 257 C674.5 255.7 675.9 254.1 677 252.8 C678.1 251.5 679.2 249.8 679.6 249.2" stroke="#000" stroke-width="3.14" fill="none" />
<path d="M611 136.4 L635.5 150.1" stroke="#1a1a1a" stroke-width="1.32" fill="none" />
<path d="M611 261.4 L635.5 247.7" stroke="#1a1a1a" stroke-width="1.32" fill="none" />
<path d="M616.4 133.6 L619 137.6 L628 141 L673.5 145.6" stroke="#1a1a1a" stroke-width="1.08" fill="none" />
<path d="M616.4 264.2 L619 260.2 L628 256.8 L673.5 252.2" stroke="#1a1a1a" stroke-width="1.08" fill="none" />
<path d="M619 137.6 L640 149.6" stroke="#1a1a1a" stroke-width="0.96" fill="none" />
<path d="M619 260.2 L640 248.2" stroke="#1a1a1a" stroke-width="0.96" fill="none" />
<path d="M635.5 150.1 C638.8 149.9 648.8 149.5 655 149 C661.2 148.5 668.8 147.1 672.5 147.2 C676.2 147.3 676.1 148.1 677.5 149.4 C678.9 150.7 680.1 152.8 680.9 154.9 C681.7 157 682 158.7 682.4 162 C682.8 165.3 682.9 172.8 683 175" stroke="#1a1a1a" stroke-width="1.32" fill="none" />
<path d="M635.5 247.7 C638.8 247.9 648.8 248.3 655 248.8 C661.2 249.3 668.8 250.7 672.5 250.6 C676.2 250.5 676.1 249.7 677.5 248.4 C678.9 247.1 680.1 245 680.9 242.9 C681.7 240.8 682 239.2 682.4 235.8 C682.8 232.5 682.9 225 683 222.8" stroke="#1a1a1a" stroke-width="1.32" fill="none" />
<path d="M640.7 152.6 C643.2 152.4 651.1 151.8 656 151.4 C660.9 151 666.8 149.9 670 150 C673.2 150.1 673.6 150.8 675 152 C676.4 153.2 677.6 154.8 678.4 157 C679.2 159.2 679.6 163.7 679.8 165" stroke="#1a1a1a" stroke-width="0.96" fill="none" />
<path d="M640.7 245.2 C643.2 245.4 651.1 246 656 246.4 C660.9 246.8 666.8 247.9 670 247.8 C673.2 247.7 673.6 247 675 245.8 C676.4 244.6 677.6 243 678.4 240.8 C679.2 238.6 679.6 234.1 679.8 232.8" stroke="#1a1a1a" stroke-width="0.96" fill="none" />
<ellipse cx="639.2" cy="143.9" rx="3" ry="1.3" stroke="#1a1a1a" stroke-width="1.2" fill="none"/>
<ellipse cx="639.2" cy="253.9" rx="3" ry="1.3" stroke="#1a1a1a" stroke-width="1.2" fill="none"/>
<path d="M683 175 C683.1 179 683.6 191 683.6 199 C683.6 207 683.1 219 683 223" stroke="#1a1a1a" stroke-width="1.32" fill="none" />
<path d="M684.4 172 C684.5 176.5 685.2 190 685.2 199 C685.2 208 684.5 221.5 684.4 226" stroke="#222" stroke-width="2.16" fill="none" />
<line x1="638.6" y1="150.1" x2="638.6" y2="247.7" stroke="#1a1a1a" stroke-width="1.2"/>
<line x1="640.8" y1="150.1" x2="640.8" y2="247.7" stroke="#1a1a1a" stroke-width="1.08"/>
<path d="M656.6 149 C656.9 151.2 658.5 156.8 658.6 162 C658.7 167.2 657.3 173.8 657 180 C656.7 186.2 656.6 192.7 656.6 199 C656.6 205.3 656.7 211.8 657 218 C657.3 224.2 658.7 230.8 658.6 236 C658.5 241.2 656.9 246.8 656.6 249" stroke="#1a1a1a" stroke-width="1.08" fill="none" />
<path d="M658.6 149 C658.9 151.2 660.3 156.8 660.4 162 C660.5 167.2 659.3 173.8 659 180 C658.7 186.2 658.6 192.7 658.6 199 C658.6 205.3 658.7 211.8 659 218 C659.3 224.2 660.5 230.8 660.4 236 C660.3 241.2 658.9 246.8 658.6 249" stroke="#444" stroke-width="0.72" fill="none" />
<line x1="590" y1="165.5" x2="640" y2="165.5" stroke="#1a1a1a" stroke-width="1.08"/>
<line x1="590" y1="232.3" x2="640" y2="232.3" stroke="#1a1a1a" stroke-width="1.08"/>
<line x1="590" y1="168.1" x2="640" y2="168.1" stroke="#1a1a1a" stroke-width="1.08"/>
<line x1="590" y1="229.7" x2="640" y2="229.7" stroke="#1a1a1a" stroke-width="1.08"/>
<line x1="590" y1="171.8" x2="640" y2="171.8" stroke="#1a1a1a" stroke-width="0.96"/>
<line x1="590" y1="226" x2="640" y2="226" stroke="#1a1a1a" stroke-width="0.96"/>
<path d="M640 165.5 C641.7 165.3 646.9 164.9 650 164.4 C653.1 163.9 655.4 162.8 658.7 162.3 C662 161.8 666.3 161.7 670 161.6 C673.7 161.5 679.2 161.9 681 162" stroke="#1a1a1a" stroke-width="1.08" fill="none" />
<path d="M640 232.3 C641.7 232.5 646.9 232.9 650 233.4 C653.1 233.9 655.4 235 658.7 235.5 C662 236 666.3 236.2 670 236.2 C673.7 236.3 679.2 235.9 681 235.8" stroke="#1a1a1a" stroke-width="1.08" fill="none" />
<path d="M640 168.1 C641.7 167.9 646.9 167.7 650 167.2 C653.1 166.7 655.4 165.5 658.7 165 C662 164.5 666.2 164.3 670 164.2 C673.8 164.1 679.7 164.5 681.6 164.6" stroke="#1a1a1a" stroke-width="1.08" fill="none" />
<path d="M640 229.7 C641.7 229.9 646.9 230.1 650 230.6 C653.1 231.1 655.4 232.3 658.7 232.8 C662 233.3 666.2 233.5 670 233.6 C673.8 233.7 679.7 233.3 681.6 233.2" stroke="#1a1a1a" stroke-width="1.08" fill="none" />
<path d="M640 171.8 C641.7 171.6 646.9 171.2 650 170.6 C653.1 170 655.4 168.9 658.7 168.4 C662 167.9 666.1 167.7 670 167.6 C673.9 167.5 680 167.9 682 168" stroke="#1a1a1a" stroke-width="0.96" fill="none" />
<path d="M640 226 C641.7 226.2 646.9 226.6 650 227.2 C653.1 227.8 655.4 228.9 658.7 229.4 C662 229.9 666.1 230.1 670 230.2 C673.9 230.3 680 229.9 682 229.8" stroke="#1a1a1a" stroke-width="0.96" fill="none" />
<line x1="590" y1="180.3" x2="683" y2="180.3" stroke="#1a1a1a" stroke-width="1.08"/>
<line x1="590" y1="217.5" x2="683" y2="217.5" stroke="#1a1a1a" stroke-width="1.08"/>
<line x1="590" y1="188.3" x2="683.4" y2="188.3" stroke="#1a1a1a" stroke-width="1.08"/>
<line x1="590" y1="209.5" x2="683.4" y2="209.5" stroke="#1a1a1a" stroke-width="1.08"/>
<line x1="590" y1="199" x2="683.6" y2="199" stroke="#1a1a1a" stroke-width="1.08"/>
<line x1="443.7" y1="191.2" x2="463.9" y2="189.6" stroke="#1a1a1a" stroke-width="0.96"/>
<line x1="443.7" y1="206.6" x2="463.9" y2="208.2" stroke="#1a1a1a" stroke-width="0.96"/>
<line x1="466.6" y1="189.6" x2="479.3" y2="189.6" stroke="#1a1a1a" stroke-width="0.96"/>
<line x1="466.6" y1="208.2" x2="479.3" y2="208.2" stroke="#1a1a1a" stroke-width="0.96"/>
<line x1="504.3" y1="189.6" x2="523.4" y2="189.6" stroke="#1a1a1a" stroke-width="0.96"/>
<line x1="504.3" y1="208.2" x2="523.4" y2="208.2" stroke="#1a1a1a" stroke-width="0.96"/>
<line x1="443.7" y1="199" x2="523.4" y2="199" stroke="#1a1a1a" stroke-width="0.96"/>
<rect x="479.6" y="171.3" width="3.9" height="23.6" rx="1.6" stroke="#1a1a1a" stroke-width="1.2" fill="none"/>
<line x1="480.2" y1="180.3" x2="482.9" y2="180.3" stroke="#555" stroke-width="0.72"/>
<line x1="480.2" y1="182.5" x2="482.9" y2="182.5" stroke="#555" stroke-width="0.72"/>
<rect x="486.5" y="171.3" width="3.9" height="23.6" rx="1.6" stroke="#1a1a1a" stroke-width="1.2" fill="none"/>
<line x1="487.1" y1="180.3" x2="489.8" y2="180.3" stroke="#555" stroke-width="0.72"/>
<line x1="487.1" y1="182.5" x2="489.8" y2="182.5" stroke="#555" stroke-width="0.72"/>
<rect x="493.4" y="171.3" width="3.9" height="23.6" rx="1.6" stroke="#1a1a1a" stroke-width="1.2" fill="none"/>
<line x1="494" y1="180.3" x2="496.7" y2="180.3" stroke="#555" stroke-width="0.72"/>
<line x1="494" y1="182.5" x2="496.7" y2="182.5" stroke="#555" stroke-width="0.72"/>
<rect x="500.3" y="171.3" width="3.9" height="23.6" rx="1.6" stroke="#1a1a1a" stroke-width="1.2" fill="none"/>
<line x1="500.9" y1="180.3" x2="503.6" y2="180.3" stroke="#555" stroke-width="0.72"/>
<line x1="500.9" y1="182.5" x2="503.6" y2="182.5" stroke="#555" stroke-width="0.72"/>
<rect x="479.6" y="203" width="3.9" height="23.6" rx="1.6" stroke="#1a1a1a" stroke-width="1.2" fill="none"/>
<line x1="480.2" y1="217.6" x2="482.9" y2="217.6" stroke="#555" stroke-width="0.72"/>
<line x1="480.2" y1="219.8" x2="482.9" y2="219.8" stroke="#555" stroke-width="0.72"/>
<rect x="486.5" y="203" width="3.9" height="23.6" rx="1.6" stroke="#1a1a1a" stroke-width="1.2" fill="none"/>
<line x1="487.1" y1="217.6" x2="489.8" y2="217.6" stroke="#555" stroke-width="0.72"/>
<line x1="487.1" y1="219.8" x2="489.8" y2="219.8" stroke="#555" stroke-width="0.72"/>
<rect x="493.4" y="203" width="3.9" height="23.6" rx="1.6" stroke="#1a1a1a" stroke-width="1.2" fill="none"/>
<line x1="494" y1="217.6" x2="496.7" y2="217.6" stroke="#555" stroke-width="0.72"/>
<line x1="494" y1="219.8" x2="496.7" y2="219.8" stroke="#555" stroke-width="0.72"/>
<rect x="500.3" y="203" width="3.9" height="23.6" rx="1.6" stroke="#1a1a1a" stroke-width="1.2" fill="none"/>
<line x1="500.9" y1="217.6" x2="503.6" y2="217.6" stroke="#555" stroke-width="0.72"/>
<line x1="500.9" y1="219.8" x2="503.6" y2="219.8" stroke="#555" stroke-width="0.72"/>
<path d="M520.4 228.5 C519.4 226.9 516.1 222.9 514.6 219 C513.1 215.1 512 209.8 511.4 205 C510.8 200.2 510.8 194.2 511.2 190 C511.6 185.8 512.3 182.6 513.6 179.5 C514.9 176.4 516 173.7 518.8 171.5 C521.6 169.3 526.2 167.6 530.3 166.4 C534.4 165.2 538.9 165 543.4 164.4 C547.9 163.8 552.6 163.1 557 163 C561.4 162.9 566.2 163.2 570 163.6 C573.8 164 576.7 164.8 580 165.2 C583.3 165.6 588.3 165.9 590 166" stroke="#000" stroke-width="1.44" fill="none" />
<path d="M522.6 224 C521.9 222.3 519.6 218 518.6 214 C517.6 210 516.7 204.3 516.4 200 C516.1 195.7 516.5 191.7 517 188 C517.5 184.3 518.4 180.6 519.6 178 C520.8 175.4 523.3 173.3 524 172.4" stroke="#444" stroke-width="0.84" fill="none" />
<path d="M516 176 C516.8 175.1 518.3 172.1 521 170.6 C523.7 169.1 528 167.7 532 166.8 C536 165.9 542.8 165.3 545 165" stroke="#333" stroke-width="0.84" fill="none" />
<line x1="590" y1="166" x2="640" y2="166" stroke="#1a1a1a" stroke-width="0.0"/>
<path d="M523.4 267 L523.8 181.5 C524.2 174 530 168.6 543 166.6 Q551 165.5 557.1 165.5 Q563.2 165.5 571.2 166.6 C584.2 168.6 590 174 590.4 181.5 L590.6 267" stroke="#1a1a1a" stroke-width="2.16" fill="#fff" />
<path d="M523.4 267 C523.2 274.2 522.7 297.8 522.4 310 C522.1 322.2 521.6 332.2 521.4 340 C521.2 347.8 521.2 353.4 521.2 357 C521.2 360.6 521.2 360.3 521.6 361.4 C522 362.5 523.3 363.4 523.6 363.8" stroke="#1a1a1a" stroke-width="1.92" fill="none" />
<path d="M590.6 267 C590.8 274.2 591.4 297.8 591.8 310 C592.2 322.2 592.6 332.2 592.8 340 C593 347.8 593 353.4 593 357 C593 360.6 593 360.3 592.6 361.4 C592.2 362.5 590.9 363.4 590.6 363.8" stroke="#1a1a1a" stroke-width="1.92" fill="none" />
<line x1="523.6" y1="363.9" x2="590.6" y2="363.9" stroke="#1a1a1a" stroke-width="1.68"/>
<path d="M528.4 180 C528.3 193.3 528.1 236.7 528 260 C527.9 283.3 527.6 306.7 527.6 320 C527.6 333.3 527.5 335.4 527.8 340 C528.1 344.6 528.6 345.6 529.4 347.6 C530.2 349.6 531.7 352 532.8 352.2 C533.9 352.4 535.4 350.3 536.2 349 C537 347.7 537.3 345.2 537.5 344.4" stroke="#1a1a1a" stroke-width="1.08" fill="none" />
<path d="M531.6 175 C531.6 189.2 531.5 235.8 531.4 260 C531.3 284.2 531.2 306.2 531.2 320 C531.2 333.8 531 338.2 531.3 343 C531.6 347.8 532.2 348.1 532.8 348.6 C533.3 349.1 534.3 346.4 534.6 346" stroke="#333" stroke-width="0.96" fill="none" />
<line x1="537.6" y1="171" x2="537.6" y2="344.4" stroke="#1a1a1a" stroke-width="1.08"/>
<line x1="539.7" y1="171" x2="539.7" y2="340.2" stroke="#1a1a1a" stroke-width="1.08"/>
<path d="M528.4 180 Q529 170 541 168.4" stroke="#1a1a1a" stroke-width="1.08" fill="none" />
<path d="M531.6 176 Q532.6 171 541 170.2" stroke="#1a1a1a" stroke-width="0.96" fill="none" />
<path d="M528.4 349.6 L522.8 362.6" stroke="#1a1a1a" stroke-width="1.08" fill="none" />
<path d="M529.8 351.2 L525.4 362.3" stroke="#333" stroke-width="0.96" fill="none" />
<path d="M585.8 180 C585.9 193.3 586.1 236.7 586.2 260 C586.3 283.3 586.6 306.7 586.6 320 C586.6 333.3 586.7 335.4 586.4 340 C586.1 344.6 585.6 345.6 584.8 347.6 C584 349.6 582.5 352 581.4 352.2 C580.3 352.4 578.8 350.3 578 349 C577.2 347.7 576.9 345.2 576.7 344.4" stroke="#1a1a1a" stroke-width="1.08" fill="none" />
<path d="M582.6 175 C582.6 189.2 582.7 235.8 582.8 260 C582.9 284.2 583 306.2 583 320 C583 333.8 583.2 338.2 582.9 343 C582.6 347.8 582 348.1 581.4 348.6 C580.9 349.1 579.9 346.4 579.6 346" stroke="#333" stroke-width="0.96" fill="none" />
<line x1="576.6" y1="171" x2="576.6" y2="344.4" stroke="#1a1a1a" stroke-width="1.08"/>
<line x1="574.5" y1="171" x2="574.5" y2="340.2" stroke="#1a1a1a" stroke-width="1.08"/>
<path d="M585.8 180 Q585.2 170 573.2 168.4" stroke="#1a1a1a" stroke-width="1.08" fill="none" />
<path d="M582.6 176 Q581.6 171 573.2 170.2" stroke="#1a1a1a" stroke-width="0.96" fill="none" />
<path d="M585.8 349.6 L591.4 362.6" stroke="#1a1a1a" stroke-width="1.08" fill="none" />
<path d="M584.4 351.2 L588.8 362.3" stroke="#333" stroke-width="0.96" fill="none" />
<line x1="539.7" y1="340.2" x2="574.5" y2="340.2" stroke="#1a1a1a" stroke-width="1.08"/>
<line x1="537.6" y1="344.4" x2="576.6" y2="344.4" stroke="#1a1a1a" stroke-width="1.08"/>
<line x1="525.4" y1="362.3" x2="588.8" y2="362.3" stroke="#333" stroke-width="0.96"/>
<path d="M541.4 171.9 L572.8 171.9 L569.4 182.0 Q568.6 184.7 565.6 184.7 L548.6 184.7 Q545.6 184.7 544.8 182.0 Z" stroke="#1a1a1a" stroke-width="1.8" fill="none" />
<path d="M554.9 169.7 L559.3 169.7 L559.3 173.0 L563.6 173.0 L563.6 178.3 L559.3 178.3 L559.3 181.6 L554.9 181.6 L554.9 178.3 L550.8 178.3 L550.8 173.0 L554.9 173.0 Z" stroke="#1a1a1a" stroke-width="1.2" fill="#fff" />
<path d="M544.4 186 Q548 196.6 557.1 196.6 Q566.2 196.6 569.8 186" stroke="#1a1a1a" stroke-width="1.08" fill="none" stroke-dasharray="3 2.4"/>
<circle cx="557.1" cy="195.4" r="1.5" stroke="#1a1a1a" stroke-width="1.08" fill="#fff"/>
<circle cx="547.2" cy="188.2" r="1.3" stroke="#1a1a1a" stroke-width="0.96" fill="none"/>
<line x1="545.2" y1="186.2" x2="549.2" y2="186.2" stroke="#1a1a1a" stroke-width="0.96"/>
<circle cx="567" cy="188.2" r="1.3" stroke="#1a1a1a" stroke-width="0.96" fill="none"/>
<line x1="565" y1="186.2" x2="569" y2="186.2" stroke="#1a1a1a" stroke-width="0.96"/>
<ellipse cx="557.5" cy="221.4" rx="11.5" ry="22.4" stroke="#1a1a1a" stroke-width="1.56" fill="none"/>
<text transform="translate(553.6 201.8) rotate(90)" x="0" y="0" font-weight="bold" font-style="italic" textLength="35.4" lengthAdjust="spacingAndGlyphs" style="font-family:'Liberation Sans',sans-serif;fill:#111;stroke:#111;stroke-width:0.35px"><tspan font-size="14">T</tspan><tspan font-size="11" dx="-1.2">erbly</tspan></text>
<circle cx="541.6" cy="226.5" r="3" stroke="#1a1a1a" stroke-width="1.2" fill="none"/>
<circle cx="541.6" cy="226.5" r="1.4" stroke="#1a1a1a" stroke-width="1.08" fill="none"/>
<circle cx="572.6" cy="226.5" r="3" stroke="#1a1a1a" stroke-width="1.2" fill="none"/>
<circle cx="572.6" cy="226.5" r="1.4" stroke="#1a1a1a" stroke-width="1.08" fill="none"/>
<line x1="505" y1="360.9" x2="517.5" y2="360.9" stroke="#222" stroke-width="2.4"/>
<path d="M531.2 364.5 L531.2 367 L582 367 L582 364.5" stroke="#1a1a1a" stroke-width="1.08" fill="none" />
<path d="M534.4 367 L534.4 372.3" stroke="#1a1a1a" stroke-width="1.08" fill="none" />
<path d="M579.7 367 L579.7 372.3" stroke="#1a1a1a" stroke-width="1.08" fill="none" />
<line x1="485" y1="372.6" x2="629.8" y2="372.6" stroke="#1a1a1a" stroke-width="1.44"/>
<path d="M485 372.6 C484.4 372.8 482.5 373.1 481.6 374 C480.7 374.9 480.1 376.3 479.8 378 C479.5 379.7 479.5 382.2 479.6 384 C479.7 385.8 479.7 387.4 480.2 388.6 C480.7 389.8 482.2 390.8 482.6 391.2" stroke="#1a1a1a" stroke-width="1.44" fill="none" />
<path d="M629.8 372.6 C630.4 372.8 632.3 373.1 633.2 374 C634.1 374.9 634.7 376.3 635 378 C635.3 379.7 635.3 382.2 635.2 384 C635.1 385.8 635.1 387.4 634.6 388.6 C634.1 389.8 632.6 390.8 632.2 391.2" stroke="#1a1a1a" stroke-width="1.44" fill="none" />
<path d="M487 374.6 C486.5 374.8 484.9 375.1 484.2 376 C483.5 376.9 483.2 378.3 483 380 C482.8 381.7 482.9 384.3 483.2 386 C483.5 387.7 484.2 388.9 485 390 C485.8 391.1 487.5 392 488 392.4" stroke="#1a1a1a" stroke-width="0.96" fill="none" />
<path d="M627.8 374.6 C628.3 374.8 629.9 375.1 630.6 376 C631.3 376.9 631.6 378.3 631.8 380 C632 381.7 631.9 384.3 631.6 386 C631.3 387.7 630.6 388.9 629.8 390 C629 391.1 627.3 392 626.8 392.4" stroke="#1a1a1a" stroke-width="0.96" fill="none" />
<path d="M482.6 391.2 C484.2 392 488.3 394.6 492 396 C495.7 397.4 500.8 398.7 505 399.6 C509.2 400.5 512.8 401.1 517 401.6 C521.2 402.1 523.3 402.3 530 402.5 C536.7 402.7 552.8 402.7 557.4 402.7" stroke="#1a1a1a" stroke-width="1.32" fill="none" />
<path d="M632.2 391.2 C630.6 392 626.5 394.6 622.8 396 C619.1 397.4 614 398.7 609.8 399.6 C605.6 400.5 602 401.1 597.8 401.6 C593.6 402.1 591.5 402.3 584.8 402.5 C578.1 402.7 562 402.7 557.4 402.7" stroke="#1a1a1a" stroke-width="1.32" fill="none" />
<path d="M487.4 391.2 C489 391.7 493.6 393.6 497 394.4 C500.4 395.2 504 395.8 508 396.2 C512 396.6 518.8 396.7 521 396.8" stroke="#1a1a1a" stroke-width="1.08" fill="none" />
<path d="M627.4 391.2 C625.8 391.7 621.2 393.6 617.8 394.4 C614.4 395.2 610.8 395.8 606.8 396.2 C602.8 396.6 596 396.7 593.8 396.8" stroke="#1a1a1a" stroke-width="1.08" fill="none" />
<line x1="521" y1="396.8" x2="593.8" y2="396.8" stroke="#1a1a1a" stroke-width="1.2"/>
<line x1="517" y1="399.4" x2="597.8" y2="399.4" stroke="#1a1a1a" stroke-width="0.96"/>
<path d="M517.6 396.6 L516.4 401.4" stroke="#1a1a1a" stroke-width="0.96" fill="none" />
<path d="M597.2 396.6 L598.4 401.4" stroke="#1a1a1a" stroke-width="0.96" fill="none" />
<rect x="487.5" y="375.6" width="7.2" height="16" rx="3.6" stroke="#1a1a1a" stroke-width="1.8" fill="none"/>
<ellipse cx="513.1" cy="389.6" rx="1.5" ry="5.6" stroke="#1a1a1a" stroke-width="0.96" fill="none"/>
<rect x="620.1" y="375.6" width="7.2" height="16" rx="3.6" stroke="#1a1a1a" stroke-width="1.8" fill="none"/>
<ellipse cx="601.7" cy="389.6" rx="1.5" ry="5.6" stroke="#1a1a1a" stroke-width="0.96" fill="none"/>
<path d="M495.2 382.7 L520.6 382.7" stroke="#1a1a1a" stroke-width="0.96" fill="none" />
<path d="M619.6 382.7 L594.2 382.7" stroke="#1a1a1a" stroke-width="0.96" fill="none" />
<path d="M495.2 391 L511.5 391" stroke="#1a1a1a" stroke-width="0.72" fill="none" />
<path d="M619.6 391 L603.3 391" stroke="#1a1a1a" stroke-width="0.72" fill="none" />
<line x1="529.4" y1="373.4" x2="529.4" y2="396.4" stroke="#111" stroke-width="2.28"/>
<line x1="536.6" y1="373.4" x2="536.6" y2="396.4" stroke="#111" stroke-width="2.28"/>
<line x1="545.4" y1="373.4" x2="545.4" y2="396.4" stroke="#111" stroke-width="2.28"/>
<line x1="570.3" y1="373.4" x2="570.3" y2="396.4" stroke="#111" stroke-width="2.28"/>
<line x1="578.3" y1="373.4" x2="578.3" y2="396.4" stroke="#111" stroke-width="2.28"/>
<line x1="586.6" y1="373.4" x2="586.6" y2="396.4" stroke="#111" stroke-width="2.28"/>
<line x1="522.5" y1="372.6" x2="522.5" y2="396.6" stroke="#1a1a1a" stroke-width="1.08"/>
<line x1="592.6" y1="372.6" x2="592.6" y2="396.6" stroke="#1a1a1a" stroke-width="1.08"/>
<line x1="526" y1="377" x2="526" y2="396.4" stroke="#555" stroke-width="0.72"/>
<line x1="533" y1="377" x2="533" y2="396.4" stroke="#555" stroke-width="0.72"/>
<line x1="541" y1="377" x2="541" y2="396.4" stroke="#555" stroke-width="0.72"/>
<line x1="549.6" y1="377" x2="549.6" y2="396.4" stroke="#555" stroke-width="0.72"/>
<line x1="566" y1="377" x2="566" y2="396.4" stroke="#555" stroke-width="0.72"/>
<line x1="574.4" y1="377" x2="574.4" y2="396.4" stroke="#555" stroke-width="0.72"/>
<line x1="582.4" y1="377" x2="582.4" y2="396.4" stroke="#555" stroke-width="0.72"/>
<line x1="589.6" y1="377" x2="589.6" y2="396.4" stroke="#555" stroke-width="0.72"/>
<path d="M553.6 396.4 L553.6 378.6 Q553.6 374.4 557.7 374.4 Q561.8 374.4 561.8 378.6 L561.8 396.4" stroke="#1a1a1a" stroke-width="1.08" fill="none" />
<path d="M483.1 392.6 L483.1 424" stroke="#1a1a1a" stroke-width="1.08" fill="none" />
<path d="M631.7 392.6 L631.7 424" stroke="#1a1a1a" stroke-width="1.08" fill="none" />
<path d="M487.1 394 L487.1 421" stroke="#1a1a1a" stroke-width="0.96" fill="none" />
<path d="M627.7 394 L627.7 421" stroke="#1a1a1a" stroke-width="0.96" fill="none" />
<line x1="479.7" y1="388" x2="479.7" y2="463" stroke="#3a3a3a" stroke-width="1.0"/>
<line x1="635.3" y1="388" x2="635.3" y2="463" stroke="#3a3a3a" stroke-width="1.0"/>
<path d="M480.4 424.1 C481.3 423.4 484.1 421.1 486 419.6 C487.9 418.2 489.7 416.8 492 415.4 C494.3 414 497 412.4 500 411.2 C503 410 506.3 409.2 510 408.4 C513.7 407.6 517 406.9 522 406.3 C527 405.7 534.1 405.1 540 404.7 C545.9 404.3 554.5 404.3 557.4 404.2" stroke="#1a1a1a" stroke-width="2.04" fill="none" />
<path d="M634.4 424.1 C633.5 423.4 630.7 421.1 628.8 419.6 C626.9 418.2 625.1 416.8 622.8 415.4 C620.5 414 617.8 412.4 614.8 411.2 C611.8 410 608.5 409.2 604.8 408.4 C601.1 407.6 597.8 406.9 592.8 406.3 C587.8 405.7 580.7 405.1 574.8 404.7 C568.9 404.3 560.3 404.3 557.4 404.2" stroke="#1a1a1a" stroke-width="2.04" fill="none" />
<path d="M484.6 424.6 C485.7 423.9 488.4 421.6 491 420.2 C493.6 418.8 496.8 417.2 500 416.1 C503.2 415 506.7 414.3 510 413.6 C513.3 412.9 518.2 412.3 519.8 412" stroke="#1a1a1a" stroke-width="1.08" fill="none" />
<path d="M630.2 424.6 C629.1 423.9 626.4 421.6 623.8 420.2 C621.2 418.8 618 417.2 614.8 416.1 C611.6 415 608.1 414.3 604.8 413.6 C601.5 412.9 596.6 412.3 595 412" stroke="#1a1a1a" stroke-width="1.08" fill="none" />
<path d="M481 426.6 C482.8 425.9 488.3 423.7 492 422.4 C495.7 421.1 501.2 419.4 503 418.8" stroke="#1a1a1a" stroke-width="0.96" fill="none" />
<path d="M633.8 426.6 C632 425.9 626.5 423.7 622.8 422.4 C619.1 421.1 613.6 419.4 611.8 418.8" stroke="#1a1a1a" stroke-width="0.96" fill="none" />
<path d="M557 404.4 L558 410.6" stroke="#1a1a1a" stroke-width="0.96" fill="none" />
<path d="M554.2 411.6 L555 419.6 Q557.4 423.4 559.8 419.6 L560.6 411.6" stroke="#1a1a1a" stroke-width="1.2" fill="#ddd" />
<line x1="519" y1="411.9" x2="595.8" y2="411.9" stroke="#1a1a1a" stroke-width="0.96"/>
<line x1="516" y1="414.6" x2="598.8" y2="414.6" stroke="#1a1a1a" stroke-width="1.08"/>
<line x1="514" y1="417.9" x2="554.4" y2="417.9" stroke="#111" stroke-width="1.56"/>
<line x1="560.4" y1="417.9" x2="600.8" y2="417.9" stroke="#111" stroke-width="1.56"/>
<line x1="512" y1="423.5" x2="602.8" y2="423.5" stroke="#111" stroke-width="1.44"/>
<line x1="510" y1="431.2" x2="604.8" y2="431.2" stroke="#1a1a1a" stroke-width="1.2"/>
<line x1="526.4" y1="418" x2="526.4" y2="423.2" stroke="#111" stroke-width="1.56"/>
<line x1="588.4" y1="418" x2="588.4" y2="423.2" stroke="#111" stroke-width="1.56"/>
<line x1="534.4" y1="418" x2="534.4" y2="423.2" stroke="#111" stroke-width="1.56"/>
<line x1="580.4" y1="418" x2="580.4" y2="423.2" stroke="#111" stroke-width="1.56"/>
<line x1="541.4" y1="418" x2="541.4" y2="423.2" stroke="#111" stroke-width="1.56"/>
<line x1="573.4" y1="418" x2="573.4" y2="423.2" stroke="#111" stroke-width="1.56"/>
<line x1="549.7" y1="418" x2="549.7" y2="423.2" stroke="#111" stroke-width="1.56"/>
<line x1="565.1" y1="418" x2="565.1" y2="423.2" stroke="#111" stroke-width="1.56"/>
<line x1="554.6" y1="418" x2="554.6" y2="423.2" stroke="#111" stroke-width="1.56"/>
<line x1="560.2" y1="418" x2="560.2" y2="423.2" stroke="#111" stroke-width="1.56"/>
<line x1="514.6" y1="424.2" x2="514.6" y2="431" stroke="#111" stroke-width="1.44"/>
<line x1="600.2" y1="424.2" x2="600.2" y2="431" stroke="#111" stroke-width="1.44"/>
<line x1="518" y1="424.2" x2="518" y2="431" stroke="#111" stroke-width="1.44"/>
<line x1="596.8" y1="424.2" x2="596.8" y2="431" stroke="#111" stroke-width="1.44"/>
<line x1="523.3" y1="424.2" x2="523.3" y2="431" stroke="#111" stroke-width="1.44"/>
<line x1="591.5" y1="424.2" x2="591.5" y2="431" stroke="#111" stroke-width="1.44"/>
<line x1="526.4" y1="424.2" x2="526.4" y2="431" stroke="#111" stroke-width="1.44"/>
<line x1="588.4" y1="424.2" x2="588.4" y2="431" stroke="#111" stroke-width="1.44"/>
<line x1="533.8" y1="424.2" x2="533.8" y2="431" stroke="#111" stroke-width="1.44"/>
<line x1="581" y1="424.2" x2="581" y2="431" stroke="#111" stroke-width="1.44"/>
<line x1="537" y1="424.2" x2="537" y2="431" stroke="#111" stroke-width="1.44"/>
<line x1="577.8" y1="424.2" x2="577.8" y2="431" stroke="#111" stroke-width="1.44"/>
<line x1="541.2" y1="424.2" x2="541.2" y2="431" stroke="#111" stroke-width="1.44"/>
<line x1="573.6" y1="424.2" x2="573.6" y2="431" stroke="#111" stroke-width="1.44"/>
<line x1="550.2" y1="424.2" x2="550.2" y2="431" stroke="#111" stroke-width="1.44"/>
<line x1="564.6" y1="424.2" x2="564.6" y2="431" stroke="#111" stroke-width="1.44"/>
<line x1="557.4" y1="424" x2="557.4" y2="431" stroke="#1a1a1a" stroke-width="1.2"/>
<line x1="542" y1="427.6" x2="549.6" y2="427.6" stroke="#1a1a1a" stroke-width="0.96"/>
<line x1="565.2" y1="427.6" x2="572.8" y2="427.6" stroke="#1a1a1a" stroke-width="0.96"/>
<line x1="551" y1="427.6" x2="557" y2="427.6" stroke="#1a1a1a" stroke-width="0.96"/>
<line x1="557.8" y1="427.6" x2="563.8" y2="427.6" stroke="#1a1a1a" stroke-width="0.96"/>
<rect x="546.4" y="431" width="22" height="4.8" rx="0" stroke="#1a1a1a" stroke-width="1.2" fill="#fff"/>
<line x1="549.4" y1="431" x2="549.4" y2="435.8" stroke="#1a1a1a" stroke-width="0.96"/>
<line x1="565.4" y1="431" x2="565.4" y2="435.8" stroke="#1a1a1a" stroke-width="0.96"/>
<circle cx="511.6" cy="420.4" r="1.5" stroke="#1a1a1a" stroke-width="1.08" fill="none"/>
<circle cx="603.2" cy="420.4" r="1.5" stroke="#1a1a1a" stroke-width="1.08" fill="none"/>
<path d="M489.5 428.9 C489.6 428.1 489.9 425.6 490.4 424.4 C490.9 423.2 491.8 422.5 492.7 421.7 C493.6 420.9 494.9 420.2 496 419.8 C497.1 419.4 498.2 419.2 499.5 419.3 C500.8 419.4 502.4 419.6 503.6 420.2 C504.9 420.8 506.1 421.7 507 422.6 C507.9 423.5 508.4 424.6 508.8 425.6 C509.2 426.7 509.3 428.3 509.4 428.9" stroke="#1a1a1a" stroke-width="1.32" fill="none" />
<path d="M486 428.9 L510 428.9" stroke="#1a1a1a" stroke-width="1.08" fill="none" />
<path d="M492.7 429 L494.3 439.4 L505.4 439.4 L507 429" stroke="#1a1a1a" stroke-width="1.2" fill="none" />
<path d="M483.1 424 L486 428.9" stroke="#1a1a1a" stroke-width="0.96" fill="none" />
<path d="M625.3 428.9 C625.1 428.1 624.9 425.6 624.4 424.4 C623.9 423.2 623 422.5 622.1 421.7 C621.2 420.9 619.9 420.2 618.8 419.8 C617.7 419.4 616.6 419.2 615.3 419.3 C614 419.4 612.4 419.6 611.2 420.2 C609.9 420.8 608.7 421.7 607.8 422.6 C606.9 423.5 606.4 424.6 606 425.6 C605.6 426.7 605.5 428.3 605.4 428.9" stroke="#1a1a1a" stroke-width="1.32" fill="none" />
<path d="M628.8 428.9 L604.8 428.9" stroke="#1a1a1a" stroke-width="1.08" fill="none" />
<path d="M622.1 429 L620.5 439.4 L609.4 439.4 L607.8 429" stroke="#1a1a1a" stroke-width="1.2" fill="none" />
<path d="M631.7 424 L628.8 428.9" stroke="#1a1a1a" stroke-width="0.96" fill="none" />
<line x1="443.7" y1="97.6" x2="443.7" y2="146.8" stroke="#3a3a3a" stroke-width="1.0"/>
<line x1="686.2" y1="97.6" x2="686.2" y2="152" stroke="#3a3a3a" stroke-width="1.0"/>
<line x1="443.7" y1="99.3" x2="686.2" y2="99.3" stroke="#3a3a3a" stroke-width="1.15"/>
<path d="M443.7 99.3 L451.2 97.6 L451.2 101 Z" stroke="#111" stroke-width="0.3" fill="#111" />
<path d="M686.2 99.3 L678.7 97.6 L678.7 101 Z" stroke="#111" stroke-width="0.3" fill="#111" />
<line x1="404.2" y1="130.3" x2="560" y2="130.3" stroke="#3a3a3a" stroke-width="1.0"/>
<line x1="405.8" y1="130.3" x2="405.8" y2="439.8" stroke="#3a3a3a" stroke-width="1.15"/>
<path d="M405.8 130.3 L404.1 137.8 L407.5 137.8 Z" stroke="#111" stroke-width="0.3" fill="#111" />
<path d="M405.8 439.8 L404.1 432.3 L407.5 432.3 Z" stroke="#111" stroke-width="0.3" fill="#111" />
<line x1="404.2" y1="439.8" x2="493.5" y2="439.8" stroke="#3a3a3a" stroke-width="1.0"/>
<line x1="479.7" y1="460.9" x2="635.3" y2="460.9" stroke="#3a3a3a" stroke-width="1.15"/>
<path d="M479.7 460.9 L487.2 459.2 L487.2 462.6 Z" stroke="#111" stroke-width="0.3" fill="#111" />
<path d="M635.3 460.9 L627.8 459.2 L627.8 462.6 Z" stroke="#111" stroke-width="0.3" fill="#111" />
<text class="s" y="0" text-anchor="middle" font-size="14.6" transform="translate(564 97.3) scale(0.7000 1)"><tspan x="-45.4 -37.9 -30.3">421</tspan><tspan x="-18.9" textLength="14.7" lengthAdjust="spacingAndGlyphs">mm</tspan><tspan x="-7.6 0 7.6 13.3 22.7 30.3 37.9 45.4">[16.5in]</tspan></text>
<text class="s" y="0" text-anchor="middle" font-size="14.6" transform="translate(555 458) scale(0.7000 1)"><tspan x="-49.6 -42 -34.3">270</tspan><tspan x="-22.9" textLength="14.8" lengthAdjust="spacingAndGlyphs">mm</tspan><tspan x="-11.4 -3.8 3.8 11.4 17.2 26.7 34.3 42 49.6"> (10.6in)</tspan></text>
<text class="s" y="0" text-anchor="middle" font-size="14.6" transform="translate(402.1 285.8) rotate(-90) scale(0.7000 1)"><tspan x="-53.1 -45.5 -38 -32.2 -22.8">537.5</tspan><tspan x="-11.4" textLength="14.7" lengthAdjust="spacingAndGlyphs">mm</tspan><tspan x="0 7.6 15.2 20.9 30.4 38 45.5 53.1">[21.2in]</tspan></text>
<line x1="921.6" y1="84.8" x2="921.6" y2="258" stroke="#333" stroke-width="1.32"/>
<line x1="921.6" y1="262" x2="921.6" y2="324" stroke="#333" stroke-width="0.96"/>
<line x1="870.8" y1="84.8" x2="972.8" y2="84.8" stroke="#000" stroke-width="1.56"/>
<path d="M870.8 84.8 L855.5 105.2" stroke="#000" stroke-width="1.8" fill="none" />
<path d="M972.8 84.8 L988.1 105.2" stroke="#000" stroke-width="1.8" fill="none" />
<path d="M884.9 84.8 L873.6 105.2" stroke="#000" stroke-width="1.68" fill="none" />
<path d="M958.7 84.8 L970 105.2" stroke="#000" stroke-width="1.68" fill="none" />
<line x1="855.5" y1="104.5" x2="988.1" y2="104.5" stroke="#666" stroke-width="1.56"/>
<line x1="855.5" y1="107.4" x2="988.1" y2="107.4" stroke="#777" stroke-width="1.56"/>
<path d="M855.5 105.2 C855.3 109 854.6 120.7 854.1 128 C853.6 135.3 852.7 145.5 852.4 149" stroke="#000" stroke-width="1.8" fill="none" />
<path d="M988.1 105.2 C988.3 109 989 120.7 989.5 128 C990 135.3 990.9 145.5 991.2 149" stroke="#000" stroke-width="1.8" fill="none" />
<path d="M855.4 120.2 L859.6 120.2 L859.6 124.4 L855.4 124.4" stroke="#000" stroke-width="1.5" fill="none" />
<path d="M990.2 120.2 L985.2 120.2 L985.2 124.4 L990.2 124.4" stroke="#000" stroke-width="1.5" fill="none" />
<path d="M855.4 126.8 L859.6 126.8 L859.6 131 L855.4 131" stroke="#000" stroke-width="1.5" fill="none" />
<path d="M990.2 126.8 L985.2 126.8 L985.2 131 L990.2 131" stroke="#000" stroke-width="1.5" fill="none" />
<path d="M855.4 133.4 L859.6 133.4 L859.6 137.6 L855.4 137.6" stroke="#000" stroke-width="1.5" fill="none" />
<path d="M990.2 133.4 L985.2 133.4 L985.2 137.6 L990.2 137.6" stroke="#000" stroke-width="1.5" fill="none" />
<path d="M855.4 140 L859.6 140 L859.6 144.2 L855.4 144.2" stroke="#000" stroke-width="1.5" fill="none" />
<path d="M990.2 140 L985.2 140 L985.2 144.2 L990.2 144.2" stroke="#000" stroke-width="1.5" fill="none" />
<path d="M873.6 105.2 C872.9 109.3 870.9 120.9 869.5 130 C868.1 139.1 866.7 148.3 865.5 160 C864.3 171.7 863.3 186.7 862.5 200 C861.7 213.3 861 228.3 860.6 240 C860.2 251.7 860.1 265 860 270" stroke="#000" stroke-width="1.56" fill="none" />
<path d="M970 105.2 C970.7 109.3 972.7 120.9 974.1 130 C975.4 139.1 976.9 148.3 978.1 160 C979.3 171.7 980.3 186.7 981.1 200 C981.9 213.3 982.6 228.3 983 240 C983.4 251.7 983.5 265 983.6 270" stroke="#000" stroke-width="1.56" fill="none" />
<path d="M873.2 110 C872.8 114.2 871.5 125.8 870.5 135 C869.5 144.2 868.2 153.3 867.2 165 C866.2 176.7 865.1 191.7 864.4 205 C863.7 218.3 863.5 234.5 863.2 245 C862.9 255.5 862.9 264.2 862.8 268" stroke="#1a1a1a" stroke-width="1.2" fill="none" />
<path d="M970.4 110 C970.8 114.2 972.1 125.8 973.1 135 C974.1 144.2 975.4 153.3 976.4 165 C977.4 176.7 978.5 191.7 979.2 205 C979.9 218.3 980.1 234.5 980.4 245 C980.7 255.5 980.7 264.2 980.8 268" stroke="#1a1a1a" stroke-width="1.2" fill="none" />
<path d="M873.6 105.2 C873.9 111 874.8 125.9 875.6 140 C876.4 154.1 877.6 175 878.4 190 C879.2 205 880 220.2 880.6 230 C881.2 239.8 881.8 245.7 882 248.8" stroke="#000" stroke-width="1.74" fill="none" />
<path d="M970 105.2 C969.7 111 968.8 125.9 968 140 C967.2 154.1 966 175 965.2 190 C964.4 205 963.6 220.2 963 230 C962.4 239.8 961.8 245.7 961.6 248.8" stroke="#000" stroke-width="1.74" fill="none" />
<path d="M852.4 149 C852.1 150.2 851.3 153.6 850.5 156.5 C849.7 159.4 848.2 162.3 847.6 166.2 C847 170 846.8 169 846.7 179.6 C846.6 190.2 846.8 214.9 846.9 230 C847 245.1 847.3 261.5 847.4 270 C847.5 278.5 847.5 279.2 847.5 281" stroke="#000" stroke-width="1.68" fill="none" />
<path d="M992.2 149 C992.5 150.2 993.3 153.6 994.1 156.5 C994.9 159.4 996.4 162.3 997 166.2 C997.6 170 997.8 169 997.9 179.6 C998 190.2 997.8 214.9 997.7 230 C997.6 245.1 997.3 261.5 997.2 270 C997.1 278.5 997.1 279.2 997.1 281" stroke="#000" stroke-width="1.68" fill="none" />
<path d="M852.4 150 C852.8 151 854 153.9 854.6 156 C855.2 158.1 855.9 157.7 856.3 162.3 C856.7 166.9 857.2 172.2 857.2 183.5 C857.2 194.8 856.7 213.6 856.6 230 C856.5 246.4 856.4 273.3 856.4 282" stroke="#1a1a1a" stroke-width="1.08" fill="none" />
<path d="M992.2 150 C991.8 151 990.6 153.9 990 156 C989.3 158.1 988.7 157.7 988.3 162.3 C987.9 166.9 987.4 172.2 987.4 183.5 C987.3 194.8 987.9 213.6 988 230 C988.1 246.4 988.2 273.3 988.2 282" stroke="#1a1a1a" stroke-width="1.08" fill="none" />
<path d="M850.5 156.5 C850.6 157.6 851.1 160.8 851.3 163 C851.5 165.2 851.7 163.8 851.6 170 C851.5 176.2 850.8 188.3 850.6 200 C850.4 211.7 850.3 226.3 850.2 240 C850.1 253.7 850.2 275 850.2 282" stroke="#1a1a1a" stroke-width="0.96" fill="none" />
<path d="M994.1 156.5 C994 157.6 993.5 160.8 993.3 163 C993.1 165.2 992.9 163.8 993 170 C993.1 176.2 993.8 188.3 994 200 C994.2 211.7 994.3 226.3 994.4 240 C994.5 253.7 994.4 275 994.4 282" stroke="#1a1a1a" stroke-width="0.96" fill="none" />
<path d="M856.3 162.3 C855.9 163.1 854.6 165.5 853.8 167 C853 168.5 852 170.8 851.6 171.5" stroke="#1a1a1a" stroke-width="0.96" fill="none" />
<path d="M988.3 162.3 C988.7 163.1 990 165.5 990.8 167 C991.6 168.5 992.6 170.8 993 171.5" stroke="#1a1a1a" stroke-width="0.96" fill="none" />
<path d="M847.6 166.2 C848 166.6 849.3 167.7 850 168.6 C850.7 169.5 851.1 166.3 851.6 171.5 C852.1 176.7 852.9 188.6 853.2 200 C853.5 211.4 853.3 226.3 853.3 240 C853.3 253.7 853.3 275 853.3 282" stroke="#444" stroke-width="0.96" fill="none" />
<path d="M997 166.2 C996.6 166.6 995.3 167.7 994.6 168.6 C993.9 169.5 993.5 166.3 993 171.5 C992.5 176.7 991.7 188.6 991.4 200 C991.1 211.4 991.3 226.3 991.3 240 C991.3 253.7 991.3 275 991.3 282" stroke="#444" stroke-width="0.96" fill="none" />
<path d="M848.8 180 L848.8 282" stroke="#666" stroke-width="0.72" fill="none" />
<path d="M995.8 180 L995.8 282" stroke="#666" stroke-width="0.72" fill="none" />
<path d="M853.4 186.3 L856.4 186.3" stroke="#1a1a1a" stroke-width="0.84" fill="none" />
<path d="M991.2 186.3 L988.2 186.3" stroke="#1a1a1a" stroke-width="0.84" fill="none" />
<path d="M853.4 188.4 L856.4 188.4" stroke="#1a1a1a" stroke-width="0.84" fill="none" />
<path d="M991.2 188.4 L988.2 188.4" stroke="#1a1a1a" stroke-width="0.84" fill="none" />
<path d="M845.2 177.8 L845.2 210.5" stroke="#222" stroke-width="1.56" fill="none" />
<path d="M999 170 L999 227" stroke="#222" stroke-width="1.32" fill="none" />
<path d="M882 247.4 Q882.4 249.2 886 249.2 L958.6 249.2 Q962.2 249.2 962.6 247.4" stroke="#1a1a1a" stroke-width="1.2" fill="none" />
<path d="M882.2 249.2 Q884 251.8 890 251.8 L954.6 251.8 Q960.6 251.8 962.4 249.2" stroke="#333" stroke-width="0.96" fill="none" />
<path d="M877.3 259.4 Q900 256.6 922.3 256.6 Q944.6 256.6 967.3 259.4" stroke="#1a1a1a" stroke-width="1.08" fill="none" />
<path d="M882.2 240 C882.2 241.5 882.4 246.7 882.2 249 C882.1 251.3 881.9 252.2 881.3 253.8 C880.7 255.4 879.6 257.2 878.6 258.6 C877.6 260.1 876.9 260.8 875.2 262.5 C873.5 264.2 870.7 266.8 868.5 268.8 C866.3 270.8 863.2 273.6 862.2 274.6" stroke="#1a1a1a" stroke-width="1.32" fill="none" />
<path d="M962.4 240 C962.4 241.5 962.2 246.7 962.4 249 C962.5 251.3 962.7 252.2 963.3 253.8 C963.9 255.4 965 257.2 966 258.6 C967 260.1 967.7 260.8 969.4 262.5 C971.1 264.2 973.9 266.8 976.1 268.8 C978.3 270.8 981.3 273.6 982.4 274.6" stroke="#1a1a1a" stroke-width="1.32" fill="none" />
<path d="M877.8 263 C876.6 264.2 872.9 267.6 870.5 270 C868.1 272.4 864.7 276.2 863.5 277.4" stroke="#1a1a1a" stroke-width="0.96" fill="none" />
<path d="M966.8 263 C968 264.2 971.7 267.6 974.1 270 C976.5 272.4 979.9 276.2 981.1 277.4" stroke="#1a1a1a" stroke-width="0.96" fill="none" />
<path d="M869.4 267.6 L884 267.6" stroke="#444" stroke-width="1.08" fill="none" />
<path d="M975.2 267.6 L960.6 267.6" stroke="#444" stroke-width="1.08" fill="none" />
<path d="M872 269.6 L884 269.6" stroke="#666" stroke-width="0.96" fill="none" />
<path d="M972.6 269.6 L960.6 269.6" stroke="#666" stroke-width="0.96" fill="none" />
<path d="M875.2 269.4 C875.1 270.3 874.9 272.9 874.3 275 C873.7 277.1 872.5 280 871.6 282 C870.7 284 869.6 285.5 868.6 287 C867.6 288.5 866.2 290.3 865.7 291" stroke="#1a1a1a" stroke-width="1.2" fill="none" />
<path d="M969.4 269.4 C969.5 270.3 969.7 272.9 970.3 275 C970.9 277.1 972 280 973 282 C973.9 284 975 285.5 976 287 C977 288.5 978.4 290.3 978.9 291" stroke="#1a1a1a" stroke-width="1.2" fill="none" />
<path d="M862.2 274.6 C863.2 274.1 865.8 272.5 868 271.6 C870.2 270.7 874 269.8 875.2 269.4" stroke="#1a1a1a" stroke-width="0.96" fill="none" />
<path d="M982.4 274.6 C981.4 274.1 978.8 272.5 976.6 271.6 C974.4 270.7 970.6 269.8 969.4 269.4" stroke="#1a1a1a" stroke-width="0.96" fill="none" />
<path d="M848.2 246 L851.4 246 L851.6 281 L848.2 281 Z" stroke="#bbb" stroke-width="0.1" fill="#b8b8b8" />
<path d="M851.4 250 L853.2 250 L853.2 281 L851.4 281 Z" stroke="#ddd" stroke-width="0.1" fill="#d8d8d8" />
<path d="M996.4 246 L993.2 246 L993 281 L996.4 281 Z" stroke="#bbb" stroke-width="0.1" fill="#b8b8b8" />
<path d="M993.2 250 L991.4 250 L991.4 281 L993.2 281 Z" stroke="#ddd" stroke-width="0.1" fill="#d8d8d8" />
<path d="M847.5 266 C847.5 268.5 847.4 277.4 847.6 281 C847.8 284.6 847.9 285.2 848.5 287.3 C849.1 289.4 850.2 291.6 851.5 293.5 C852.8 295.4 854.7 296.9 856.5 298.8 C858.3 300.7 858.6 301 862.3 305 C865.9 309 875.7 319.9 878.4 322.9" stroke="#000" stroke-width="1.5" fill="none" />
<path d="M997.1 266 C997.1 268.5 997.2 277.4 997 281 C996.8 284.6 996.7 285.2 996.1 287.3 C995.4 289.4 994.4 291.6 993.1 293.5 C991.8 295.4 989.9 296.9 988.1 298.8 C986.3 300.7 985.9 301 982.3 305 C978.6 309 968.9 319.9 966.2 322.9" stroke="#000" stroke-width="1.5" fill="none" />
<path d="M850.4 266 C850.4 268.5 850.4 277.5 850.5 281 C850.6 284.5 850.7 285.1 851.3 287.1 C851.9 289.1 852.8 291.2 854.1 293 C855.3 294.8 857 296.2 858.8 298.1 C860.6 300.1 861.4 300.9 864.8 304.7 C868.2 308.4 876.8 318 879.2 320.7" stroke="#222" stroke-width="0.96" fill="none" />
<path d="M994.2 266 C994.2 268.5 994.2 277.5 994.1 281 C994 284.5 993.9 285.1 993.3 287.1 C992.7 289.1 991.8 291.2 990.5 293 C989.3 294.8 987.6 296.2 985.8 298.1 C984 300.1 983.2 300.9 979.8 304.7 C976.4 308.4 967.8 318 965.4 320.7" stroke="#222" stroke-width="0.96" fill="none" />
<path d="M853.5 266 C853.5 268.5 853.4 277.5 853.5 281 C853.7 284.5 853.7 285 854.2 286.9 C854.7 288.9 855.6 290.7 856.7 292.5 C857.9 294.2 859.4 295.5 861.2 297.4 C863 299.4 864.3 300.8 867.5 304.3 C870.6 307.8 878 316 880.1 318.4" stroke="#222" stroke-width="0.96" fill="none" />
<path d="M991.1 266 C991.1 268.5 991.2 277.5 991.1 281 C990.9 284.5 990.9 285 990.4 286.9 C989.9 288.9 989 290.7 987.9 292.5 C986.7 294.2 985.2 295.5 983.4 297.4 C981.6 299.4 980.3 300.8 977.1 304.3 C974 307.8 966.6 316 964.5 318.4" stroke="#222" stroke-width="0.96" fill="none" />
<path d="M857.1 266 C857.1 268.5 857 277.5 857.1 281 C857.2 284.5 857.2 284.9 857.6 286.7 C858.1 288.5 858.8 290.2 859.9 291.8 C860.9 293.5 862.2 294.6 864 296.6 C865.8 298.7 867.7 300.8 870.6 303.9 C873.4 307.1 879.4 313.7 881.1 315.6" stroke="#222" stroke-width="0.96" fill="none" />
<path d="M987.5 266 C987.5 268.5 987.6 277.5 987.5 281 C987.4 284.5 987.4 284.9 987 286.7 C986.5 288.5 985.8 290.2 984.7 291.8 C983.7 293.5 982.4 294.6 980.6 296.6 C978.8 298.7 976.9 300.8 974 303.9 C971.2 307.1 965.2 313.7 963.5 315.6" stroke="#222" stroke-width="0.96" fill="none" />
<path d="M860.8 266 C860.8 268.5 860.7 277.6 860.8 281 C860.9 284.4 860.8 284.8 861.2 286.5 C861.6 288.2 862.2 289.6 863.1 291.2 C864 292.8 865.1 293.8 866.9 295.8 C868.7 297.9 871.2 300.7 873.8 303.5 C876.3 306.3 880.8 311.2 882.2 312.8" stroke="#000" stroke-width="1.5" fill="none" />
<path d="M983.8 266 C983.8 268.5 983.9 277.6 983.8 281 C983.7 284.4 983.8 284.8 983.4 286.5 C983 288.2 982.4 289.6 981.5 291.2 C980.5 292.8 979.5 293.8 977.7 295.8 C975.9 297.9 973.3 300.7 970.8 303.5 C968.2 306.3 963.8 311.2 962.4 312.8" stroke="#000" stroke-width="1.5" fill="none" />
<path d="M847.5 281.6 L860.5 281.6" stroke="#1a1a1a" stroke-width="0.96" fill="none" />
<path d="M997.1 281.6 L984.1 281.6" stroke="#1a1a1a" stroke-width="0.96" fill="none" />
<path d="M878.4 322.9 Q880 324.3 883 324.3" stroke="#1a1a1a" stroke-width="1.44" fill="none" />
<path d="M882.2 312.8 Q884.6 316 883.6 321.6" stroke="#1a1a1a" stroke-width="1.08" fill="none" />
<path d="M879.4 314.6 Q882 318 880.6 323" stroke="#1a1a1a" stroke-width="0.84" fill="none" />
<line x1="860.5" y1="262" x2="860.5" y2="280" stroke="#1a1a1a" stroke-width="1.2"/>
<path d="M966.2 322.9 Q964.6 324.3 961.6 324.3" stroke="#1a1a1a" stroke-width="1.44" fill="none" />
<path d="M962.4 312.8 Q960 316 961 321.6" stroke="#1a1a1a" stroke-width="1.08" fill="none" />
<path d="M965.2 314.6 Q962.6 318 964 323" stroke="#1a1a1a" stroke-width="0.84" fill="none" />
<line x1="984.1" y1="262" x2="984.1" y2="280" stroke="#1a1a1a" stroke-width="1.2"/>
<circle cx="877" cy="280.4" r="3.6" stroke="#000" stroke-width="1.56" fill="none"/>
<circle cx="877" cy="280.4" r="1.7" stroke="#000" stroke-width="1.2" fill="#333"/>
<circle cx="967.6" cy="280.4" r="3.6" stroke="#000" stroke-width="1.56" fill="none"/>
<circle cx="967.6" cy="280.4" r="1.7" stroke="#000" stroke-width="1.2" fill="#333"/>
<rect x="886.2" y="259.4" width="2.1" height="13" rx="0" stroke="#000" stroke-width="0.1" fill="#000"/>
<rect x="886.2" y="313" width="2.1" height="7.6" rx="0" stroke="#000" stroke-width="0.1" fill="#000"/>
<rect x="890.9" y="259.4" width="2.1" height="13" rx="0" stroke="#000" stroke-width="0.1" fill="#000"/>
<rect x="890.9" y="313" width="2.1" height="7.6" rx="0" stroke="#000" stroke-width="0.1" fill="#000"/>
<rect x="895.5" y="259.4" width="2.1" height="13" rx="0" stroke="#000" stroke-width="0.1" fill="#000"/>
<rect x="895.5" y="313" width="2.1" height="7.6" rx="0" stroke="#000" stroke-width="0.1" fill="#000"/>
<rect x="900.1" y="259.4" width="2.1" height="13" rx="0" stroke="#000" stroke-width="0.1" fill="#000"/>
<rect x="900.1" y="313" width="2.1" height="7.6" rx="0" stroke="#000" stroke-width="0.1" fill="#000"/>
<rect x="904.7" y="259.4" width="2.1" height="13" rx="0" stroke="#000" stroke-width="0.1" fill="#000"/>
<rect x="904.7" y="313" width="2.1" height="7.6" rx="0" stroke="#000" stroke-width="0.1" fill="#000"/>
<rect x="909.3" y="259.4" width="2.1" height="13" rx="0" stroke="#000" stroke-width="0.1" fill="#000"/>
<rect x="909.3" y="313" width="2.1" height="7.6" rx="0" stroke="#000" stroke-width="0.1" fill="#000"/>
<rect x="913.9" y="259.4" width="2.1" height="13" rx="0" stroke="#000" stroke-width="0.1" fill="#000"/>
<rect x="913.9" y="313" width="2.1" height="7.6" rx="0" stroke="#000" stroke-width="0.1" fill="#000"/>
<rect x="918.5" y="259.4" width="2.1" height="13" rx="0" stroke="#000" stroke-width="0.1" fill="#000"/>
<rect x="918.5" y="313" width="2.1" height="7.6" rx="0" stroke="#000" stroke-width="0.1" fill="#000"/>
<rect x="923.2" y="259.4" width="2.1" height="13" rx="0" stroke="#000" stroke-width="0.1" fill="#000"/>
<rect x="923.2" y="313" width="2.1" height="7.6" rx="0" stroke="#000" stroke-width="0.1" fill="#000"/>
<rect x="927.8" y="259.4" width="2.1" height="13" rx="0" stroke="#000" stroke-width="0.1" fill="#000"/>
<rect x="927.8" y="313" width="2.1" height="7.6" rx="0" stroke="#000" stroke-width="0.1" fill="#000"/>
<rect x="932.4" y="259.4" width="2.1" height="13" rx="0" stroke="#000" stroke-width="0.1" fill="#000"/>
<rect x="932.4" y="313" width="2.1" height="7.6" rx="0" stroke="#000" stroke-width="0.1" fill="#000"/>
<rect x="937" y="259.4" width="2.1" height="13" rx="0" stroke="#000" stroke-width="0.1" fill="#000"/>
<rect x="937" y="313" width="2.1" height="7.6" rx="0" stroke="#000" stroke-width="0.1" fill="#000"/>
<rect x="941.6" y="259.4" width="2.1" height="13" rx="0" stroke="#000" stroke-width="0.1" fill="#000"/>
<rect x="941.6" y="313" width="2.1" height="7.6" rx="0" stroke="#000" stroke-width="0.1" fill="#000"/>
<rect x="946.2" y="259.4" width="2.1" height="13" rx="0" stroke="#000" stroke-width="0.1" fill="#000"/>
<rect x="946.2" y="313" width="2.1" height="7.6" rx="0" stroke="#000" stroke-width="0.1" fill="#000"/>
<rect x="950.8" y="259.4" width="2.1" height="13" rx="0" stroke="#000" stroke-width="0.1" fill="#000"/>
<rect x="950.8" y="313" width="2.1" height="7.6" rx="0" stroke="#000" stroke-width="0.1" fill="#000"/>
<rect x="955.5" y="259.4" width="2.1" height="13" rx="0" stroke="#000" stroke-width="0.1" fill="#000"/>
<rect x="955.5" y="313" width="2.1" height="7.6" rx="0" stroke="#000" stroke-width="0.1" fill="#000"/>
<rect x="883.6" y="271" width="76.8" height="43" rx="2.5" stroke="#000" stroke-width="0.3" fill="#000"/>
<line x1="885" y1="321.9" x2="959.6" y2="321.9" stroke="#333" stroke-width="0.84"/>
<line x1="882.5" y1="324.4" x2="962.1" y2="324.4" stroke="#000" stroke-width="1.8"/>
<path d="M817.1 270 L825.5 270 L824.5 300 L822.9 335 L822.5 349 L818.3 343 L816.3 341 L816.6 300 Z" stroke="#ccc" stroke-width="0.1" fill="#c6c6c6" />
<path d="M1027.5 270 L1019.1 270 L1020.1 300 L1021.7 335 L1022.1 349 L1026.3 343 L1028.3 341 L1028 300 Z" stroke="#ccc" stroke-width="0.1" fill="#c6c6c6" />
<line x1="843.6" y1="163.4" x2="843.6" y2="364.3" stroke="#1a1a1a" stroke-width="1.2"/>
<line x1="1001" y1="163.4" x2="1001" y2="364.3" stroke="#1a1a1a" stroke-width="1.2"/>
<path d="M843.6 163.4 L831.2 163.4 L823.7 167.9 L824.2 172.5" stroke="#1a1a1a" stroke-width="1.2" fill="none" />
<path d="M1001 163.4 L1013.4 163.4 L1020.9 167.9 L1020.4 172.5" stroke="#1a1a1a" stroke-width="1.2" fill="none" />
<path d="M820.9 179 C820.6 183.3 819.5 196.5 818.9 205 C818.3 213.5 818 219.2 817.6 230 C817.2 240.8 816.9 255 816.6 270 C816.3 285 816.1 308.2 816 320 C815.9 331.8 815.8 337.5 815.8 341" stroke="#000" stroke-width="2.04" fill="none" />
<path d="M1023.7 179 C1024 183.3 1025.1 196.5 1025.7 205 C1026.2 213.5 1026.6 219.2 1027 230 C1027.4 240.8 1027.7 255 1028 270 C1028.3 285 1028.5 308.2 1028.6 320 C1028.7 331.8 1028.8 337.5 1028.8 341" stroke="#000" stroke-width="2.04" fill="none" />
<path d="M822.3 179 C822 183.3 821 196.5 820.5 205 C820 213.5 819.4 217.5 819.1 230 C818.8 242.5 818.6 263.3 818.5 280 C818.4 296.7 818.3 319.5 818.3 330 C818.3 340.5 818.5 340.8 818.6 343" stroke="#000" stroke-width="1.68" fill="none" />
<path d="M1022.3 179 C1022.6 183.3 1023.6 196.5 1024.1 205 C1024.6 213.5 1025.2 217.5 1025.5 230 C1025.8 242.5 1026 263.3 1026.1 280 C1026.2 296.7 1026.3 319.5 1026.3 330 C1026.3 340.5 1026 340.8 1026 343" stroke="#000" stroke-width="1.68" fill="none" />
<path d="M824.7 179 C824.9 185.8 825.4 206.5 825.7 220 C825.9 233.5 826.3 246.7 826.2 260 C826 273.3 825.3 287.5 824.8 300 C824.3 312.5 823.5 326.8 823.1 335 C822.7 343.2 822.6 346.7 822.5 349" stroke="#000" stroke-width="1.68" fill="none" />
<path d="M1019.9 179 C1019.7 185.8 1019.1 206.5 1018.9 220 C1018.6 233.5 1018.2 246.7 1018.4 260 C1018.5 273.3 1019.3 287.5 1019.8 300 C1020.3 312.5 1021.1 326.8 1021.5 335 C1021.9 343.2 1022 346.7 1022.1 349" stroke="#000" stroke-width="1.68" fill="none" />
<path d="M823.8 179 C823.6 187.5 823.2 213.2 822.8 230 C822.3 246.8 821.5 265 821.1 280 C820.7 295 820.4 309 820.2 320 C820 331 820.1 341.7 820.1 346" stroke="#000" stroke-width="1.44" fill="none" />
<path d="M1020.8 179 C1021 187.5 1021.3 213.2 1021.8 230 C1022.2 246.8 1023.1 265 1023.5 280 C1023.9 295 1024.2 309 1024.4 320 C1024.6 331 1024.5 341.7 1024.5 346" stroke="#000" stroke-width="1.44" fill="none" />
<path d="M821.5 179 C821.7 183.3 822.5 195.7 822.9 205 C823.3 214.3 823.8 225.5 824.1 235 C824.4 244.5 824.6 251.2 824.5 262 C824.4 272.8 823.8 287 823.3 300 C822.8 313 822 333.3 821.7 340" stroke="#222" stroke-width="1.08" fill="none" />
<path d="M1023.1 179 C1022.9 183.3 1022.1 195.7 1021.7 205 C1021.3 214.3 1020.8 225.5 1020.5 235 C1020.2 244.5 1020 251.2 1020.1 262 C1020.2 272.8 1020.8 287 1021.3 300 C1021.8 313 1022.6 333.3 1022.9 340" stroke="#222" stroke-width="1.08" fill="none" />
<path d="M824.5 179 C824.2 182.5 823.1 191.5 822.5 200 C821.9 208.5 821.2 219.7 820.7 230 C820.2 240.3 819.7 256.7 819.5 262" stroke="#333" stroke-width="0.96" fill="none" />
<path d="M1020.1 179 C1020.4 182.5 1021.5 191.5 1022.1 200 C1022.7 208.5 1023.4 219.7 1023.9 230 C1024.4 240.3 1024.9 256.7 1025.1 262" stroke="#333" stroke-width="0.96" fill="none" />
<path d="M820.8 173.2 L824.9 173.2 L825 179.4 L820.7 179.4 Z" stroke="#222" stroke-width="0.96" fill="#bbb" />
<path d="M1023.8 173.2 L1019.7 173.2 L1019.6 179.4 L1023.9 179.4 Z" stroke="#222" stroke-width="0.96" fill="#bbb" />
<path d="M831.2 163.4 C831.5 164.5 832.6 166.2 833.1 170 C833.5 173.8 833.9 176 833.9 186 C833.9 196 833.3 214.3 832.9 230 C832.5 245.7 831.9 263.3 831.6 280 C831.3 296.7 831 316 830.9 330 C830.8 344 830.7 358.3 830.7 364" stroke="#1a1a1a" stroke-width="1.2" fill="none" />
<path d="M1013.4 163.4 C1013.1 164.5 1012 166.2 1011.5 170 C1011 173.8 1010.7 176 1010.7 186 C1010.7 196 1011.3 214.3 1011.7 230 C1012.1 245.7 1012.7 263.3 1013 280 C1013.3 296.7 1013.5 316 1013.7 330 C1013.8 344 1013.9 358.3 1013.9 364" stroke="#1a1a1a" stroke-width="1.2" fill="none" />
<path d="M832.7 172 C832.6 176.7 832.3 190.3 832.3 200 C832.3 209.7 833 220 832.9 230 C832.8 240 832.3 248.3 831.9 260 C831.5 271.7 830.8 282.7 830.5 300 C830.2 317.3 830 353.3 829.9 364" stroke="#333" stroke-width="0.96" fill="none" />
<path d="M1011.9 172 C1012 176.7 1012.3 190.3 1012.3 200 C1012.3 209.7 1011.6 220 1011.7 230 C1011.8 240 1012.3 248.3 1012.7 260 C1013.1 271.7 1013.8 282.7 1014.1 300 C1014.4 317.3 1014.6 353.3 1014.7 364" stroke="#333" stroke-width="0.96" fill="none" />
<line x1="824.3" y1="173.1" x2="843.6" y2="173.1" stroke="#333" stroke-width="1.08"/>
<line x1="1020.3" y1="173.1" x2="1001" y2="173.1" stroke="#333" stroke-width="1.08"/>
<line x1="825.7" y1="181.4" x2="843.6" y2="181.4" stroke="#444" stroke-width="0.96"/>
<line x1="1018.9" y1="181.4" x2="1001" y2="181.4" stroke="#444" stroke-width="0.96"/>
<path d="M815.8 341 L825.1 362.6 L828.3 364.3 L830.5 364.5" stroke="#1a1a1a" stroke-width="1.8" fill="none" />
<path d="M1028.8 341 L1019.5 362.6 L1016.3 364.3 L1014.1 364.5" stroke="#1a1a1a" stroke-width="1.8" fill="none" />
<path d="M818.6 343 L826.7 361.6 L830.5 362.1" stroke="#1a1a1a" stroke-width="1.2" fill="none" />
<path d="M1026 343 L1017.9 361.6 L1014.1 362.1" stroke="#1a1a1a" stroke-width="1.2" fill="none" />
<path d="M822.5 349 L827.7 360.2" stroke="#1a1a1a" stroke-width="1.2" fill="none" />
<path d="M1022.1 349 L1016.9 360.2" stroke="#1a1a1a" stroke-width="1.2" fill="none" />
<line x1="828.3" y1="364.4" x2="1016.3" y2="364.4" stroke="#333" stroke-width="1.44"/>
<line x1="830.5" y1="362" x2="1014.1" y2="362" stroke="#444" stroke-width="1.2"/>
<path d="M843.6 292.8 L875.8 332 Q879.8 336.8 885.8 336.8 L958.8 336.8 Q964.8 336.8 968.8 332 L1001 292.8" stroke="#1a1a1a" stroke-width="1.44" fill="none" />
<path d="M844.8 296.5 L875 333.5 Q879.3 338.3 885.8 338.3 L958.8 338.3 Q965.3 338.3 969.6 333.5 L999.8 296.5" stroke="#333" stroke-width="1.08" fill="none" />
<path d="M845.7 297 L845.7 320.8 L868.3 348 L922.3 348 L922.3 348 L976.3 348 L998.9 320.8 L998.9 297 L996.1 301.5 L996.1 319.6 L974.3 345.8 L870.3 345.8 L848.5 319.6 L848.5 301.5 Z" stroke="#ccc" stroke-width="0.1" fill="#cfcfcf" />
<path d="M845.7 297 L845.7 320.8 L868.3 348.2 L922.3 348.2" stroke="#1a1a1a" stroke-width="1.32" fill="none" />
<path d="M998.9 297 L998.9 320.8 L976.3 348.2 L922.3 348.2" stroke="#1a1a1a" stroke-width="1.32" fill="none" />
<path d="M848.5 301.5 L848.5 319.6 L870.3 345.8 L922.3 345.8" stroke="#1a1a1a" stroke-width="1.08" fill="none" />
<path d="M996.1 301.5 L996.1 319.6 L974.3 345.8 L922.3 345.8" stroke="#1a1a1a" stroke-width="1.08" fill="none" />
<path d="M844.3 322 L866.9 349.6 L922.3 349.6" stroke="#333" stroke-width="1.08" fill="none" />
<path d="M1000.3 322 L977.7 349.6 L922.3 349.6" stroke="#333" stroke-width="1.08" fill="none" />
<circle cx="849.7" cy="335" r="3.2" stroke="#1a1a1a" stroke-width="1.32" fill="none"/>
<circle cx="994.9" cy="335" r="3.2" stroke="#1a1a1a" stroke-width="1.32" fill="none"/>
<circle cx="849.7" cy="335" r="1.5" stroke="#1a1a1a" stroke-width="1.32" fill="#666"/>
<circle cx="994.9" cy="335" r="1.5" stroke="#1a1a1a" stroke-width="1.32" fill="#666"/>
<circle cx="855.9" cy="356.2" r="3.2" stroke="#1a1a1a" stroke-width="1.32" fill="none"/>
<circle cx="988.7" cy="356.2" r="3.2" stroke="#1a1a1a" stroke-width="1.32" fill="none"/>
<circle cx="855.9" cy="356.2" r="1.5" stroke="#1a1a1a" stroke-width="1.32" fill="#666"/>
<circle cx="988.7" cy="356.2" r="1.5" stroke="#1a1a1a" stroke-width="1.32" fill="#666"/>
<rect x="954.5" y="358.4" width="25.5" height="5.8" rx="0" stroke="#1a1a1a" stroke-width="0.72" fill="#333"/>
<line x1="956.5" y1="361.2" x2="970.5" y2="361.2" stroke="#aaa" stroke-width="1.08"/>
<rect x="972" y="359.4" width="6.5" height="2.2" rx="0" stroke="#bbb" stroke-width="0.1" fill="#bbb"/>
<path d="M896.7 364.4 L896.7 367.2 L948.1 367.2 L948.1 364.4" stroke="#1a1a1a" stroke-width="1.2" fill="#d4d4d4" />
<path d="M899.6 367.2 L899.6 371.8" stroke="#1a1a1a" stroke-width="1.2" fill="none" />
<path d="M944.9 367.2 L944.9 371.8" stroke="#1a1a1a" stroke-width="1.2" fill="none" />
<line x1="908.8" y1="373.6" x2="913.8" y2="373.6" stroke="#000" stroke-width="1.44"/>
<line x1="916.3" y1="373.6" x2="918.3" y2="373.6" stroke="#000" stroke-width="1.44"/>
<line x1="920.8" y1="373.6" x2="928.3" y2="373.6" stroke="#000" stroke-width="1.44"/>
<line x1="865.3" y1="372.4" x2="979.3" y2="372.4" stroke="#222" stroke-width="1.92"/>
<line x1="865.3" y1="373.8" x2="979.3" y2="373.8" stroke="#777" stroke-width="1.68"/>
<line x1="865.3" y1="375" x2="979.3" y2="375" stroke="#bbb" stroke-width="1.44"/>
<line x1="846.3" y1="373.2" x2="864.3" y2="373.2" stroke="#bbb" stroke-width="2.46"/>
<line x1="998.3" y1="373.2" x2="980.3" y2="373.2" stroke="#bbb" stroke-width="2.46"/>
<line x1="844.3" y1="371.8" x2="1000.3" y2="371.8" stroke="#1a1a1a" stroke-width="1.68"/>
<path d="M844.3 371.8 C843.6 371.9 841.3 372 839.9 372.5 C838.5 373 837 373.9 835.9 375 C834.8 376.1 834.1 377.5 833.6 378.8 C833.1 380.1 833 381.6 832.8 383 C832.6 384.4 832.7 385.7 832.5 387 C832.3 388.3 832.1 389.5 831.5 390.6 C830.9 391.7 830.1 392.9 828.7 393.8 C827.3 394.7 825.4 395.4 823.3 396 C821.2 396.6 817.8 396.8 815.9 397.2 C814 397.6 812.8 397.8 811.7 398.3 C810.6 398.8 809.8 399.5 809.3 400.2 C808.8 400.9 808.8 401.8 808.7 402.4 C808.6 403 808.7 403.7 808.7 404" stroke="#1a1a1a" stroke-width="1.92" fill="none" />
<path d="M1000.3 371.8 C1001 371.9 1003.3 372 1004.7 372.5 C1006.1 373 1007.6 373.9 1008.7 375 C1009.8 376.1 1010.5 377.5 1011 378.8 C1011.5 380.1 1011.6 381.6 1011.8 383 C1012 384.4 1011.9 385.7 1012.1 387 C1012.3 388.3 1012.5 389.5 1013.1 390.6 C1013.7 391.7 1014.5 392.9 1015.9 393.8 C1017.3 394.7 1019.2 395.4 1021.3 396 C1023.4 396.6 1026.8 396.8 1028.7 397.2 C1030.6 397.6 1031.8 397.8 1032.9 398.3 C1034 398.8 1034.8 399.5 1035.3 400.2 C1035.8 400.9 1035.8 401.8 1035.9 402.4 C1036 403 1035.9 403.7 1035.9 404" stroke="#1a1a1a" stroke-width="1.92" fill="none" />
<path d="M846.2 375.2 C845.6 375.3 843.8 375.3 842.9 375.8 C842 376.3 841.1 377.1 840.5 378 C839.9 378.9 839.8 379.8 839.5 381 C839.2 382.2 839.1 383.9 838.5 385.4 C837.9 386.9 837 388.5 835.9 390 C834.8 391.5 833.5 393.2 832.1 394.6 C830.7 396 829.2 397.3 827.3 398.4 C825.4 399.5 823 400.7 820.8 401.4 C818.6 402.1 816 402.5 814.3 402.6 C812.6 402.7 811.3 402.3 810.7 402.2" stroke="#1a1a1a" stroke-width="1.08" fill="none" />
<path d="M998.4 375.2 C998.9 375.3 1000.8 375.3 1001.7 375.8 C1002.6 376.3 1003.5 377.1 1004.1 378 C1004.7 378.9 1004.8 379.8 1005.1 381 C1005.4 382.2 1005.5 383.9 1006.1 385.4 C1006.7 386.9 1007.6 388.5 1008.7 390 C1009.8 391.5 1011.1 393.2 1012.5 394.6 C1013.9 396 1015.4 397.3 1017.3 398.4 C1019.2 399.5 1021.6 400.7 1023.8 401.4 C1026 402.1 1028.6 402.5 1030.3 402.6 C1032 402.7 1033.3 402.3 1033.9 402.2" stroke="#1a1a1a" stroke-width="1.08" fill="none" />
<path d="M841.5 373.4 C840.9 373.7 838.9 374.5 837.9 375.4 C836.9 376.3 836.2 377.6 835.7 379 C835.2 380.4 835 383.2 834.9 384" stroke="#1a1a1a" stroke-width="0.96" fill="none" />
<path d="M1003.1 373.4 C1003.7 373.7 1005.7 374.5 1006.7 375.4 C1007.7 376.3 1008.4 377.6 1008.9 379 C1009.4 380.4 1009.6 383.2 1009.7 384" stroke="#1a1a1a" stroke-width="0.96" fill="none" />
<path d="M835.9 378 L839.7 380.8" stroke="#1a1a1a" stroke-width="0.84" fill="none" />
<path d="M1008.7 378 L1004.9 380.8" stroke="#1a1a1a" stroke-width="0.84" fill="none" />
<path d="M832.9 384.6 L838.3 385.6" stroke="#1a1a1a" stroke-width="0.84" fill="none" />
<path d="M1011.7 384.6 L1006.3 385.6" stroke="#1a1a1a" stroke-width="0.84" fill="none" />
<path d="M811.7 398.3 C812.2 398.5 813.7 398.8 814.9 399.4 C816.1 400 818.1 401.4 818.8 401.8" stroke="#1a1a1a" stroke-width="0.84" fill="none" />
<path d="M1032.9 398.3 C1032.4 398.5 1030.9 398.8 1029.7 399.4 C1028.5 400 1026.4 401.4 1025.8 401.8" stroke="#1a1a1a" stroke-width="0.84" fill="none" />
<path d="M808.7 404 L831.5 420.9" stroke="#1a1a1a" stroke-width="1.8" fill="none" />
<path d="M1035.9 404 L1013.1 420.9" stroke="#1a1a1a" stroke-width="1.8" fill="none" />
<path d="M831.5 420.9 C832.3 421.3 834.3 422.9 836.3 423.6 C838.2 424.4 842 425.1 843.2 425.4" stroke="#1a1a1a" stroke-width="1.8" fill="none" />
<path d="M1013.1 420.9 C1012.3 421.3 1010.2 422.9 1008.3 423.6 C1006.3 424.4 1002.5 425.1 1001.4 425.4" stroke="#1a1a1a" stroke-width="1.8" fill="none" />
<path d="M809.7 407.2 L830.1 421.4" stroke="#1a1a1a" stroke-width="1.2" fill="none" />
<path d="M1034.9 407.2 L1014.5 421.4" stroke="#1a1a1a" stroke-width="1.2" fill="none" />
<path d="M817.3 411.4 L825.3 416.8" stroke="#666" stroke-width="1.92" fill="none" />
<path d="M1027.3 411.4 L1019.3 416.8" stroke="#666" stroke-width="1.92" fill="none" />
<line x1="842.6" y1="379" x2="842.6" y2="425.6" stroke="#1a1a1a" stroke-width="1.2"/>
<line x1="1002" y1="379" x2="1002" y2="425.6" stroke="#1a1a1a" stroke-width="1.2"/>
<line x1="841.3" y1="380" x2="841.3" y2="424.6" stroke="#555" stroke-width="0.84"/>
<line x1="1003.3" y1="380" x2="1003.3" y2="424.6" stroke="#555" stroke-width="0.84"/>
<line x1="831.9" y1="391" x2="831.9" y2="420.4" stroke="#1a1a1a" stroke-width="1.8"/>
<line x1="1012.7" y1="391" x2="1012.7" y2="420.4" stroke="#1a1a1a" stroke-width="1.8"/>
<line x1="846.2" y1="371.8" x2="846.2" y2="379" stroke="#1a1a1a" stroke-width="1.08"/>
<line x1="998.4" y1="371.8" x2="998.4" y2="379" stroke="#1a1a1a" stroke-width="1.08"/>
<line x1="842.3" y1="378.9" x2="1002.3" y2="378.9" stroke="#333" stroke-width="1.2"/>
<line x1="843.2" y1="425.6" x2="1001.4" y2="425.6" stroke="#1a1a1a" stroke-width="2.16"/>
<line x1="843.2" y1="423.6" x2="1001.4" y2="423.6" stroke="#1a1a1a" stroke-width="1.08"/>
<line x1="843.3" y1="430.3" x2="1001.3" y2="430.3" stroke="#1a1a1a" stroke-width="1.08"/>
<path d="M865.5 372 L865.5 411.4 Q865.5 419.4 873.7 419.4 L970.9 419.4 Q979.1 419.4 979.1 411.4 L979.1 372" stroke="#111" stroke-width="2.16" fill="none" />
<path d="M865.7 392 Q866.1 386.8 871.8 386.8 L972.8 386.8 Q978.5 386.8 978.9 392" stroke="#111" stroke-width="2.16" fill="none" />
<line x1="865.9" y1="386.8" x2="978.7" y2="386.8" stroke="#111" stroke-width="1.44"/>
<line x1="865.2" y1="371.6" x2="865.2" y2="380" stroke="#000" stroke-width="2.69"/>
<line x1="979.4" y1="371.6" x2="979.4" y2="380" stroke="#000" stroke-width="2.69"/>
<path d="M866.5 371.8 L866.9 377.2 L865.9 377.2 Z" stroke="#000" stroke-width="0.96" fill="#000" />
<path d="M978.1 371.8 L977.7 377.2 L978.7 377.2 Z" stroke="#000" stroke-width="0.96" fill="#000" />
<circle cx="867.2" cy="381.6" r="2.7" stroke="#1a1a1a" stroke-width="1.2" fill="#fff"/>
<circle cx="977.4" cy="381.6" r="2.7" stroke="#1a1a1a" stroke-width="1.2" fill="#fff"/>
<circle cx="867.2" cy="381.6" r="1.2" stroke="#1a1a1a" stroke-width="1.08" fill="#888"/>
<circle cx="977.4" cy="381.6" r="1.2" stroke="#1a1a1a" stroke-width="1.08" fill="#888"/>
<path d="M824.7 420.4 L826.7 430.2 L829.7 439.5 L841.5 439.5 L842.5 430.2 L842.9 426" stroke="#333" stroke-width="1.08" fill="none" />
<path d="M1019.9 420.4 L1017.9 430.2 L1014.9 439.5 L1003.1 439.5 L1002.1 430.2 L1001.7 426" stroke="#333" stroke-width="1.08" fill="none" />
<line x1="826.7" y1="430.2" x2="842.7" y2="430.2" stroke="#444" stroke-width="0.96"/>
<line x1="1017.9" y1="430.2" x2="1001.9" y2="430.2" stroke="#444" stroke-width="0.96"/>
<rect x="843.9" y="431.2" width="4" height="3.6" rx="0" stroke="#555" stroke-width="0.96" fill="none"/>
<rect x="996.7" y="431.2" width="4" height="3.6" rx="0" stroke="#555" stroke-width="0.96" fill="none"/>
<rect x="848.7" y="431.2" width="4" height="3.6" rx="0" stroke="#555" stroke-width="0.96" fill="none"/>
<rect x="991.9" y="431.2" width="4" height="3.6" rx="0" stroke="#555" stroke-width="0.96" fill="none"/>
<rect x="853.5" y="431.2" width="4" height="3.6" rx="0" stroke="#555" stroke-width="0.96" fill="none"/>
<rect x="987.1" y="431.2" width="4" height="3.6" rx="0" stroke="#555" stroke-width="0.96" fill="none"/>
<rect x="843.5" y="424.8" width="7.6" height="2.4" rx="0" stroke="#1a1a1a" stroke-width="0.96" fill="#fff"/>
<rect x="993.5" y="424.8" width="7.6" height="2.4" rx="0" stroke="#1a1a1a" stroke-width="0.96" fill="#fff"/>
<path d="M910.8 430.3 L912.8 433.6 L931.8 433.6 L933.8 430.3" stroke="#1a1a1a" stroke-width="1.2" fill="none" />
<path d="M873.3 430.3 Q879.3 432.6 885.3 430.3" stroke="#1a1a1a" stroke-width="0.96" fill="none" />
<path d="M959.3 430.3 Q965.3 432.6 971.3 430.3" stroke="#1a1a1a" stroke-width="0.96" fill="none" />
<line x1="1022.3" y1="175.4" x2="1027.3" y2="175.4" stroke="#1a1a1a" stroke-width="1.2"/>
<rect x="1026.9" y="173" width="1.9" height="4.8" rx="0" stroke="#1a1a1a" stroke-width="1.08" fill="#fff"/>
<line x1="781.3" y1="84.8" x2="1086.8" y2="84.8" stroke="#3a3a3a" stroke-width="1.1"/>
<line x1="783.6" y1="84.8" x2="783.6" y2="438.6" stroke="#3a3a3a" stroke-width="1.15"/>
<path d="M783.6 84.8 L781.9 92.3 L785.3 92.3 Z" stroke="#111" stroke-width="0.3" fill="#111" />
<path d="M783.6 438.6 L781.9 431.1 L785.3 431.1 Z" stroke="#111" stroke-width="0.3" fill="#111" />
<line x1="781.2" y1="439.4" x2="826" y2="439.4" stroke="#3a3a3a" stroke-width="1.0"/>
<line x1="1084.9" y1="84.8" x2="1084.9" y2="445.2" stroke="#3a3a3a" stroke-width="1.1"/>
<path d="M1084.9 84.8 L1083.2 92.3 L1086.6 92.3 Z" stroke="#111" stroke-width="0.3" fill="#111" />
<path d="M1084.9 327.2 L1083.2 319.7 L1086.6 319.7 Z" stroke="#111" stroke-width="0.3" fill="#111" />
<path d="M1084.9 327.2 L1083.2 334.7 L1086.6 334.7 Z" stroke="#111" stroke-width="0.3" fill="#111" />
<path d="M1084.9 364.3 L1083.2 356.8 L1086.6 356.8 Z" stroke="#111" stroke-width="0.3" fill="#111" />
<line x1="951" y1="327.2" x2="1086.8" y2="327.2" stroke="#3a3a3a" stroke-width="1.1"/>
<line x1="1014" y1="364.3" x2="1086.8" y2="364.3" stroke="#3a3a3a" stroke-width="1.1"/>
<text class="s" y="0" text-anchor="middle" font-size="14.6" transform="translate(780 262.1) rotate(-90) scale(0.7000 1)"><tspan x="-53.1 -45.5 -37.9 -32.2 -22.7">616.7</tspan><tspan x="-11.4" textLength="14.7" lengthAdjust="spacingAndGlyphs">mm</tspan><tspan x="0 7.6 15.2 22.7 28.5 37.9 45.5 53.1">[]24.2in</tspan></text>
<text class="s" y="0" text-anchor="middle" font-size="14.6" transform="translate(1081 206.6) rotate(-90) scale(0.7000 1)"><tspan x="-45.6 -38 -30.4">415</tspan><tspan x="-19" textLength="14.7" lengthAdjust="spacingAndGlyphs">mm</tspan><tspan x="-7.6 0 7.6 13.3 22.8 30.4 38 45.6">[16.3in]</tspan></text>
<text class="s" y="0" text-anchor="middle" font-size="14.6" transform="translate(1081 415) rotate(-90) scale(0.7000 1)"><tspan x="-37.9 -30.3">65</tspan><tspan x="-19" textLength="14.7" lengthAdjust="spacingAndGlyphs">mm</tspan><tspan x="-7.6 -0 5.7 15.2 22.8 30.3 37.9">[2.5in]</tspan></text>
</svg>
</body>
</html>
